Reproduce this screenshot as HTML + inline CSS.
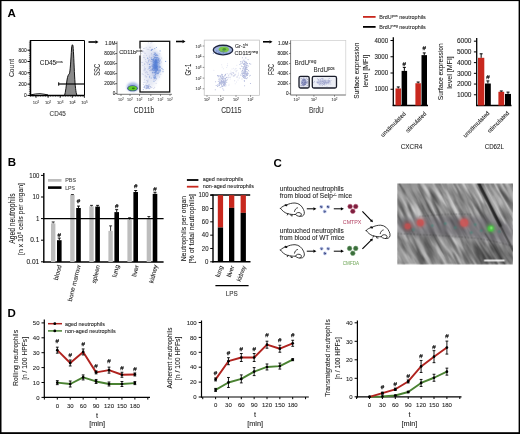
<!DOCTYPE html>
<html><head><meta charset="utf-8"><style>
html,body{margin:0;padding:0;background:#fff;}
body{width:520px;height:434px;overflow:hidden;}
svg{display:block;font-family:"Liberation Sans", sans-serif;will-change:transform;}
</style></head><body>
<svg width="520" height="434" viewBox="0 0 520 434">
<defs>
<filter id="blur1" x="-50%" y="-50%" width="200%" height="200%"><feGaussianBlur stdDeviation="1.2"/></filter>
<filter id="blur2" x="-50%" y="-50%" width="200%" height="200%"><feGaussianBlur stdDeviation="2"/></filter>
<filter id="blur05" x="-50%" y="-50%" width="200%" height="200%"><feGaussianBlur stdDeviation="0.6"/></filter>
<filter id="noise" x="0" y="0" width="100%" height="100%">
<feTurbulence type="fractalNoise" baseFrequency="0.35" numOctaves="2" seed="3" result="t"/>
<feColorMatrix type="saturate" values="0"/>
</filter>
</defs>
<rect x="0" y="0" width="520" height="434" fill="#fff"/>

<text x="7.60" y="17.00" font-size="11.5" font-weight="bold" fill="#000">A</text>
<line x1="30.50" y1="40.50" x2="84.50" y2="40.50" stroke="#000" stroke-width="1"/>
<line x1="84.50" y1="40.50" x2="84.50" y2="95.40" stroke="#000" stroke-width="1"/>
<line x1="30.50" y1="40.00" x2="30.50" y2="96.20" stroke="#000" stroke-width="1.5"/>
<line x1="29.70" y1="95.40" x2="84.50" y2="95.40" stroke="#000" stroke-width="1.5"/>
<line x1="28.90" y1="95.40" x2="30.50" y2="95.40" stroke="#000" stroke-width="0.5"/>
<line x1="28.90" y1="93.50" x2="30.50" y2="93.50" stroke="#000" stroke-width="0.5"/>
<line x1="28.90" y1="91.60" x2="30.50" y2="91.60" stroke="#000" stroke-width="0.5"/>
<line x1="28.90" y1="89.70" x2="30.50" y2="89.70" stroke="#000" stroke-width="0.5"/>
<line x1="28.90" y1="87.80" x2="30.50" y2="87.80" stroke="#000" stroke-width="0.5"/>
<line x1="28.90" y1="85.90" x2="30.50" y2="85.90" stroke="#000" stroke-width="0.5"/>
<line x1="28.90" y1="84.00" x2="30.50" y2="84.00" stroke="#000" stroke-width="0.5"/>
<line x1="28.90" y1="82.10" x2="30.50" y2="82.10" stroke="#000" stroke-width="0.5"/>
<line x1="28.90" y1="80.20" x2="30.50" y2="80.20" stroke="#000" stroke-width="0.5"/>
<line x1="28.90" y1="78.30" x2="30.50" y2="78.30" stroke="#000" stroke-width="0.5"/>
<line x1="28.90" y1="76.40" x2="30.50" y2="76.40" stroke="#000" stroke-width="0.5"/>
<line x1="28.90" y1="74.50" x2="30.50" y2="74.50" stroke="#000" stroke-width="0.5"/>
<line x1="28.90" y1="72.60" x2="30.50" y2="72.60" stroke="#000" stroke-width="0.5"/>
<line x1="28.90" y1="70.70" x2="30.50" y2="70.70" stroke="#000" stroke-width="0.5"/>
<line x1="28.90" y1="68.80" x2="30.50" y2="68.80" stroke="#000" stroke-width="0.5"/>
<line x1="28.90" y1="66.90" x2="30.50" y2="66.90" stroke="#000" stroke-width="0.5"/>
<line x1="28.90" y1="65.00" x2="30.50" y2="65.00" stroke="#000" stroke-width="0.5"/>
<line x1="28.90" y1="63.10" x2="30.50" y2="63.10" stroke="#000" stroke-width="0.5"/>
<line x1="28.90" y1="61.20" x2="30.50" y2="61.20" stroke="#000" stroke-width="0.5"/>
<line x1="28.90" y1="59.30" x2="30.50" y2="59.30" stroke="#000" stroke-width="0.5"/>
<line x1="28.90" y1="57.40" x2="30.50" y2="57.40" stroke="#000" stroke-width="0.5"/>
<line x1="28.90" y1="55.50" x2="30.50" y2="55.50" stroke="#000" stroke-width="0.5"/>
<line x1="28.90" y1="53.60" x2="30.50" y2="53.60" stroke="#000" stroke-width="0.5"/>
<line x1="28.90" y1="51.70" x2="30.50" y2="51.70" stroke="#000" stroke-width="0.5"/>
<line x1="28.90" y1="49.80" x2="30.50" y2="49.80" stroke="#000" stroke-width="0.5"/>
<line x1="28.90" y1="47.90" x2="30.50" y2="47.90" stroke="#000" stroke-width="0.5"/>
<line x1="28.90" y1="46.00" x2="30.50" y2="46.00" stroke="#000" stroke-width="0.5"/>
<line x1="28.90" y1="44.10" x2="30.50" y2="44.10" stroke="#000" stroke-width="0.5"/>
<line x1="28.90" y1="42.20" x2="30.50" y2="42.20" stroke="#000" stroke-width="0.5"/>
<line x1="27.50" y1="95.40" x2="30.50" y2="95.40" stroke="#000" stroke-width="1"/>
<text x="26.60" y="97.10" font-size="4.8" text-anchor="end" fill="#222" stroke="#222" stroke-width="0.08">0</text>
<line x1="27.50" y1="84.10" x2="30.50" y2="84.10" stroke="#000" stroke-width="1"/>
<text x="26.60" y="85.80" font-size="4.8" text-anchor="end" fill="#222" stroke="#222" stroke-width="0.08">200</text>
<line x1="27.50" y1="72.80" x2="30.50" y2="72.80" stroke="#000" stroke-width="1"/>
<text x="26.60" y="74.50" font-size="4.8" text-anchor="end" fill="#222" stroke="#222" stroke-width="0.08">400</text>
<line x1="27.50" y1="61.50" x2="30.50" y2="61.50" stroke="#000" stroke-width="1"/>
<text x="26.60" y="63.20" font-size="4.8" text-anchor="end" fill="#222" stroke="#222" stroke-width="0.08">600</text>
<line x1="27.50" y1="50.20" x2="30.50" y2="50.20" stroke="#000" stroke-width="1"/>
<text x="26.60" y="51.90" font-size="4.8" text-anchor="end" fill="#222" stroke="#222" stroke-width="0.08">800</text>
<line x1="36.00" y1="95.40" x2="36.00" y2="97.90" stroke="#000" stroke-width="0.8"/>
<text x="36.00" y="104.20" font-size="4.2" text-anchor="middle" fill="#444" stroke="#444" stroke-width="0.08">10<tspan font-size="3.0" baseline-shift="1.5">1</tspan></text>
<line x1="48.10" y1="95.40" x2="48.10" y2="97.90" stroke="#000" stroke-width="0.8"/>
<text x="48.10" y="104.20" font-size="4.2" text-anchor="middle" fill="#444" stroke="#444" stroke-width="0.08">10<tspan font-size="3.0" baseline-shift="1.5">2</tspan></text>
<line x1="60.20" y1="95.40" x2="60.20" y2="97.90" stroke="#000" stroke-width="0.8"/>
<text x="60.20" y="104.20" font-size="4.2" text-anchor="middle" fill="#444" stroke="#444" stroke-width="0.08">10<tspan font-size="3.0" baseline-shift="1.5">3</tspan></text>
<line x1="72.30" y1="95.40" x2="72.30" y2="97.90" stroke="#000" stroke-width="0.8"/>
<text x="72.30" y="104.20" font-size="4.2" text-anchor="middle" fill="#444" stroke="#444" stroke-width="0.08">10<tspan font-size="3.0" baseline-shift="1.5">4</tspan></text>
<line x1="84.40" y1="95.40" x2="84.40" y2="97.90" stroke="#000" stroke-width="0.8"/>
<text x="84.40" y="104.20" font-size="4.2" text-anchor="middle" fill="#444" stroke="#444" stroke-width="0.08">10<tspan font-size="3.0" baseline-shift="1.5">5</tspan></text>
<line x1="30.50" y1="95.40" x2="30.50" y2="96.70" stroke="#000" stroke-width="0.5"/>
<line x1="33.00" y1="95.40" x2="33.00" y2="96.70" stroke="#000" stroke-width="0.5"/>
<line x1="35.50" y1="95.40" x2="35.50" y2="96.70" stroke="#000" stroke-width="0.5"/>
<line x1="38.00" y1="95.40" x2="38.00" y2="96.70" stroke="#000" stroke-width="0.5"/>
<line x1="40.50" y1="95.40" x2="40.50" y2="96.70" stroke="#000" stroke-width="0.5"/>
<line x1="43.00" y1="95.40" x2="43.00" y2="96.70" stroke="#000" stroke-width="0.5"/>
<line x1="45.50" y1="95.40" x2="45.50" y2="96.70" stroke="#000" stroke-width="0.5"/>
<line x1="48.00" y1="95.40" x2="48.00" y2="96.70" stroke="#000" stroke-width="0.5"/>
<line x1="50.50" y1="95.40" x2="50.50" y2="96.70" stroke="#000" stroke-width="0.5"/>
<line x1="53.00" y1="95.40" x2="53.00" y2="96.70" stroke="#000" stroke-width="0.5"/>
<line x1="55.50" y1="95.40" x2="55.50" y2="96.70" stroke="#000" stroke-width="0.5"/>
<line x1="58.00" y1="95.40" x2="58.00" y2="96.70" stroke="#000" stroke-width="0.5"/>
<line x1="60.50" y1="95.40" x2="60.50" y2="96.70" stroke="#000" stroke-width="0.5"/>
<line x1="63.00" y1="95.40" x2="63.00" y2="96.70" stroke="#000" stroke-width="0.5"/>
<line x1="65.50" y1="95.40" x2="65.50" y2="96.70" stroke="#000" stroke-width="0.5"/>
<line x1="68.00" y1="95.40" x2="68.00" y2="96.70" stroke="#000" stroke-width="0.5"/>
<line x1="70.50" y1="95.40" x2="70.50" y2="96.70" stroke="#000" stroke-width="0.5"/>
<line x1="73.00" y1="95.40" x2="73.00" y2="96.70" stroke="#000" stroke-width="0.5"/>
<line x1="75.50" y1="95.40" x2="75.50" y2="96.70" stroke="#000" stroke-width="0.5"/>
<line x1="78.00" y1="95.40" x2="78.00" y2="96.70" stroke="#000" stroke-width="0.5"/>
<line x1="80.50" y1="95.40" x2="80.50" y2="96.70" stroke="#000" stroke-width="0.5"/>
<line x1="83.00" y1="95.40" x2="83.00" y2="96.70" stroke="#000" stroke-width="0.5"/>
<path d="M31,94.8 C34,94.2 37,93.6 40,93.7 C43,93.8 45,94.5 48,94.9" fill="none" stroke="#000" stroke-width="0.9"/>
<path d="M64.6,95.3 C65.6,92 66.2,86 67,80 C67.6,76 68.4,74.6 69.3,73.8 C70.2,72.5 70.8,60 71.6,48 C71.9,44.5 72.6,43.8 73,46 C73.6,52 74,64 74.6,76 C75.2,86 75.8,92.5 76.9,95.3 Z" fill="#8a8a8a" stroke="#000" stroke-width="0.9"/>
<line x1="58.70" y1="84.00" x2="84.50" y2="84.00" stroke="#000" stroke-width="1.2"/>
<line x1="58.70" y1="82.30" x2="58.70" y2="85.70" stroke="#000" stroke-width="1"/>
<text x="39.75" y="65.30" font-size="6.6" fill="#222" stroke="#222" stroke-width="0.08" textLength="23.00" lengthAdjust="spacingAndGlyphs">CD45<tspan font-size="4.2" baseline-shift="2.2">pos</tspan></text>
<text x="13.70" y="68.00" font-size="8.0" text-anchor="middle" fill="#333" stroke="#333" stroke-width="0.08" transform="rotate(-90 13.70 68.00)" textLength="18.10" lengthAdjust="spacingAndGlyphs">Count</text>
<text x="57.70" y="115.60" font-size="7.8" text-anchor="middle" fill="#333" stroke="#333" stroke-width="0.08" textLength="16.20" lengthAdjust="spacingAndGlyphs">CD45</text>
<line x1="88.50" y1="42.00" x2="95.80" y2="42.00" stroke="#000" stroke-width="1.6"/>
<path d="M98.50,42.00 L95.50,43.65 L95.50,40.35 Z" fill="#000"/>
<line x1="176.00" y1="41.50" x2="182.80" y2="41.50" stroke="#000" stroke-width="1.6"/>
<path d="M185.50,41.50 L182.50,43.15 L182.50,39.85 Z" fill="#000"/>
<line x1="263.00" y1="41.80" x2="269.80" y2="41.80" stroke="#000" stroke-width="1.6"/>
<path d="M272.50,41.80 L269.50,43.45 L269.50,40.15 Z" fill="#000"/>
<ellipse cx="150" cy="66" rx="8" ry="22" fill="#dfe3f2" opacity="0.8" filter="url(#blur2)"/>
<ellipse cx="155.7" cy="65" rx="4.5" ry="13" fill="#9fb2e2" opacity="0.8" filter="url(#blur2)"/>
<g fill="#8c96c8" opacity="0.45"><circle cx="143.1" cy="52.1" r="0.5"/><circle cx="154.5" cy="69.6" r="0.5"/><circle cx="155.8" cy="60.4" r="0.5"/><circle cx="151.0" cy="63.3" r="0.5"/><circle cx="145.3" cy="68.9" r="0.5"/><circle cx="142.7" cy="62.4" r="0.5"/><circle cx="152.5" cy="67.7" r="0.5"/><circle cx="149.3" cy="59.4" r="0.5"/><circle cx="149.8" cy="60.2" r="0.5"/><circle cx="147.1" cy="62.4" r="0.5"/><circle cx="159.1" cy="67.3" r="0.5"/><circle cx="149.9" cy="75.8" r="0.5"/><circle cx="159.1" cy="64.1" r="0.5"/><circle cx="141.7" cy="62.2" r="0.5"/><circle cx="152.3" cy="60.2" r="0.5"/><circle cx="147.1" cy="73.0" r="0.5"/><circle cx="150.1" cy="70.8" r="0.5"/><circle cx="146.8" cy="83.8" r="0.5"/><circle cx="156.5" cy="67.4" r="0.5"/><circle cx="146.7" cy="76.5" r="0.5"/><circle cx="151.4" cy="53.5" r="0.5"/><circle cx="146.7" cy="80.6" r="0.5"/><circle cx="148.5" cy="62.7" r="0.5"/><circle cx="150.1" cy="66.6" r="0.5"/><circle cx="157.7" cy="69.6" r="0.5"/><circle cx="144.6" cy="79.7" r="0.5"/><circle cx="150.5" cy="67.2" r="0.5"/><circle cx="151.8" cy="87.6" r="0.5"/><circle cx="159.8" cy="53.7" r="0.5"/><circle cx="146.4" cy="77.1" r="0.5"/><circle cx="155.5" cy="80.6" r="0.5"/><circle cx="151.9" cy="42.4" r="0.5"/><circle cx="160.8" cy="74.2" r="0.5"/><circle cx="152.8" cy="73.4" r="0.5"/><circle cx="142.9" cy="91.9" r="0.5"/><circle cx="144.8" cy="63.9" r="0.5"/><circle cx="147.7" cy="74.4" r="0.5"/><circle cx="151.5" cy="70.5" r="0.5"/><circle cx="149.8" cy="70.5" r="0.5"/><circle cx="155.2" cy="65.7" r="0.5"/><circle cx="145.9" cy="72.3" r="0.5"/><circle cx="141.2" cy="53.5" r="0.5"/><circle cx="144.0" cy="70.7" r="0.5"/><circle cx="159.5" cy="76.9" r="0.5"/><circle cx="154.7" cy="70.1" r="0.5"/><circle cx="150.4" cy="61.2" r="0.5"/><circle cx="143.0" cy="50.3" r="0.5"/><circle cx="153.2" cy="75.6" r="0.5"/><circle cx="154.7" cy="87.2" r="0.5"/><circle cx="147.5" cy="80.7" r="0.5"/><circle cx="158.8" cy="66.9" r="0.5"/><circle cx="154.4" cy="64.9" r="0.5"/><circle cx="144.9" cy="68.4" r="0.5"/><circle cx="146.7" cy="71.2" r="0.5"/><circle cx="155.8" cy="62.4" r="0.5"/><circle cx="144.5" cy="67.1" r="0.5"/><circle cx="152.4" cy="72.5" r="0.5"/><circle cx="143.3" cy="84.5" r="0.5"/><circle cx="150.2" cy="47.2" r="0.5"/><circle cx="144.7" cy="48.2" r="0.5"/><circle cx="143.9" cy="82.4" r="0.5"/><circle cx="147.9" cy="81.7" r="0.5"/><circle cx="149.9" cy="47.2" r="0.5"/><circle cx="145.1" cy="53.2" r="0.5"/><circle cx="155.3" cy="68.2" r="0.5"/><circle cx="149.0" cy="86.4" r="0.5"/><circle cx="143.6" cy="48.4" r="0.5"/><circle cx="144.9" cy="82.3" r="0.5"/><circle cx="148.3" cy="42.7" r="0.5"/><circle cx="143.3" cy="87.2" r="0.5"/><circle cx="154.2" cy="52.5" r="0.5"/><circle cx="161.4" cy="62.1" r="0.5"/><circle cx="142.9" cy="65.2" r="0.5"/><circle cx="153.8" cy="88.4" r="0.5"/><circle cx="154.3" cy="61.3" r="0.5"/><circle cx="146.1" cy="47.7" r="0.5"/><circle cx="148.6" cy="59.1" r="0.5"/><circle cx="150.3" cy="50.2" r="0.5"/><circle cx="146.4" cy="55.3" r="0.5"/><circle cx="142.8" cy="51.3" r="0.5"/><circle cx="143.8" cy="51.3" r="0.5"/><circle cx="151.9" cy="68.3" r="0.5"/><circle cx="142.2" cy="73.8" r="0.5"/><circle cx="150.5" cy="86.4" r="0.5"/><circle cx="148.0" cy="64.2" r="0.5"/><circle cx="145.5" cy="68.7" r="0.5"/><circle cx="151.5" cy="69.3" r="0.5"/><circle cx="147.7" cy="74.5" r="0.5"/><circle cx="149.5" cy="70.3" r="0.5"/><circle cx="144.2" cy="69.7" r="0.5"/><circle cx="143.9" cy="55.8" r="0.5"/><circle cx="154.1" cy="67.1" r="0.5"/><circle cx="148.1" cy="80.1" r="0.5"/><circle cx="156.1" cy="83.2" r="0.5"/><circle cx="148.0" cy="69.5" r="0.5"/><circle cx="147.3" cy="63.2" r="0.5"/><circle cx="144.6" cy="63.7" r="0.5"/><circle cx="151.2" cy="54.7" r="0.5"/><circle cx="151.8" cy="49.8" r="0.5"/><circle cx="147.1" cy="72.3" r="0.5"/><circle cx="143.7" cy="57.5" r="0.5"/><circle cx="161.6" cy="57.9" r="0.5"/><circle cx="145.4" cy="59.4" r="0.5"/><circle cx="149.2" cy="66.6" r="0.5"/><circle cx="154.0" cy="77.5" r="0.5"/><circle cx="146.9" cy="62.3" r="0.5"/><circle cx="141.8" cy="47.1" r="0.5"/><circle cx="145.2" cy="76.7" r="0.5"/><circle cx="149.6" cy="77.7" r="0.5"/><circle cx="153.8" cy="64.8" r="0.5"/><circle cx="159.7" cy="60.0" r="0.5"/><circle cx="145.8" cy="61.3" r="0.5"/><circle cx="154.8" cy="65.2" r="0.5"/><circle cx="145.2" cy="72.8" r="0.5"/><circle cx="154.8" cy="65.5" r="0.5"/><circle cx="147.7" cy="81.4" r="0.5"/><circle cx="154.0" cy="79.6" r="0.5"/><circle cx="145.1" cy="70.8" r="0.5"/><circle cx="150.9" cy="43.1" r="0.5"/><circle cx="155.1" cy="68.3" r="0.5"/><circle cx="149.7" cy="57.4" r="0.5"/><circle cx="148.7" cy="74.5" r="0.5"/><circle cx="153.2" cy="66.2" r="0.5"/><circle cx="144.6" cy="57.7" r="0.5"/><circle cx="144.8" cy="53.0" r="0.5"/><circle cx="148.9" cy="60.5" r="0.5"/><circle cx="149.3" cy="56.0" r="0.5"/><circle cx="144.6" cy="64.5" r="0.5"/><circle cx="147.2" cy="82.3" r="0.5"/><circle cx="144.4" cy="69.7" r="0.5"/><circle cx="148.8" cy="49.6" r="0.5"/><circle cx="152.7" cy="69.2" r="0.5"/><circle cx="153.8" cy="56.4" r="0.5"/><circle cx="157.6" cy="69.1" r="0.5"/><circle cx="143.1" cy="74.5" r="0.5"/><circle cx="147.2" cy="49.2" r="0.5"/><circle cx="145.2" cy="75.5" r="0.5"/><circle cx="151.0" cy="60.1" r="0.5"/></g>
<g fill="#3f6ccc" opacity="0.55"><circle cx="154.2" cy="78.5" r="0.6"/><circle cx="160.6" cy="70.8" r="0.6"/><circle cx="154.7" cy="57.5" r="0.6"/><circle cx="154.6" cy="77.7" r="0.6"/><circle cx="157.0" cy="62.8" r="0.6"/><circle cx="152.2" cy="66.3" r="0.6"/><circle cx="153.2" cy="65.1" r="0.6"/><circle cx="157.8" cy="73.2" r="0.6"/><circle cx="156.1" cy="62.4" r="0.6"/><circle cx="156.3" cy="78.8" r="0.6"/><circle cx="156.8" cy="54.3" r="0.6"/><circle cx="160.1" cy="66.9" r="0.6"/><circle cx="165.6" cy="61.4" r="0.6"/><circle cx="155.4" cy="62.7" r="0.6"/><circle cx="156.8" cy="60.6" r="0.6"/><circle cx="151.5" cy="50.3" r="0.6"/><circle cx="155.3" cy="61.1" r="0.6"/><circle cx="154.0" cy="81.2" r="0.6"/><circle cx="158.0" cy="73.3" r="0.6"/><circle cx="154.3" cy="67.3" r="0.6"/><circle cx="155.1" cy="63.4" r="0.6"/><circle cx="157.8" cy="69.6" r="0.6"/><circle cx="156.6" cy="66.1" r="0.6"/><circle cx="151.6" cy="59.4" r="0.6"/><circle cx="156.8" cy="62.2" r="0.6"/><circle cx="153.5" cy="67.7" r="0.6"/><circle cx="153.1" cy="59.9" r="0.6"/><circle cx="158.2" cy="62.3" r="0.6"/><circle cx="159.8" cy="69.0" r="0.6"/><circle cx="158.0" cy="73.6" r="0.6"/><circle cx="149.6" cy="64.4" r="0.6"/><circle cx="152.0" cy="61.5" r="0.6"/><circle cx="155.4" cy="74.5" r="0.6"/><circle cx="155.6" cy="77.5" r="0.6"/><circle cx="154.2" cy="64.6" r="0.6"/><circle cx="156.0" cy="72.2" r="0.6"/><circle cx="155.6" cy="60.3" r="0.6"/><circle cx="154.8" cy="54.3" r="0.6"/><circle cx="159.3" cy="70.7" r="0.6"/><circle cx="156.9" cy="67.1" r="0.6"/><circle cx="154.0" cy="61.9" r="0.6"/><circle cx="158.0" cy="59.0" r="0.6"/><circle cx="153.5" cy="77.0" r="0.6"/><circle cx="160.1" cy="67.2" r="0.6"/><circle cx="157.2" cy="66.4" r="0.6"/><circle cx="159.7" cy="61.6" r="0.6"/><circle cx="155.9" cy="68.7" r="0.6"/><circle cx="159.8" cy="63.1" r="0.6"/><circle cx="156.4" cy="61.3" r="0.6"/><circle cx="153.8" cy="60.0" r="0.6"/><circle cx="155.9" cy="71.7" r="0.6"/><circle cx="153.7" cy="60.4" r="0.6"/><circle cx="154.6" cy="67.7" r="0.6"/><circle cx="157.7" cy="55.5" r="0.6"/><circle cx="156.7" cy="57.5" r="0.6"/><circle cx="157.7" cy="57.7" r="0.6"/><circle cx="152.6" cy="59.6" r="0.6"/><circle cx="155.5" cy="57.5" r="0.6"/><circle cx="156.3" cy="66.1" r="0.6"/><circle cx="155.9" cy="67.0" r="0.6"/><circle cx="158.2" cy="59.5" r="0.6"/><circle cx="155.7" cy="64.8" r="0.6"/><circle cx="149.9" cy="67.9" r="0.6"/><circle cx="153.5" cy="59.6" r="0.6"/><circle cx="154.4" cy="65.7" r="0.6"/><circle cx="156.6" cy="68.6" r="0.6"/><circle cx="153.8" cy="70.2" r="0.6"/><circle cx="156.9" cy="62.1" r="0.6"/><circle cx="155.6" cy="71.0" r="0.6"/><circle cx="156.9" cy="70.2" r="0.6"/><circle cx="156.0" cy="73.6" r="0.6"/><circle cx="161.9" cy="68.4" r="0.6"/><circle cx="151.2" cy="78.0" r="0.6"/><circle cx="154.1" cy="54.6" r="0.6"/><circle cx="149.1" cy="68.2" r="0.6"/><circle cx="158.8" cy="72.5" r="0.6"/><circle cx="154.6" cy="75.9" r="0.6"/><circle cx="155.5" cy="60.6" r="0.6"/><circle cx="155.9" cy="66.6" r="0.6"/><circle cx="155.8" cy="68.0" r="0.6"/><circle cx="149.6" cy="76.8" r="0.6"/><circle cx="154.1" cy="69.9" r="0.6"/><circle cx="153.5" cy="66.2" r="0.6"/><circle cx="155.2" cy="53.1" r="0.6"/><circle cx="156.8" cy="69.8" r="0.6"/><circle cx="152.6" cy="49.3" r="0.6"/><circle cx="153.9" cy="58.7" r="0.6"/><circle cx="156.0" cy="64.9" r="0.6"/><circle cx="160.2" cy="69.9" r="0.6"/><circle cx="155.0" cy="66.2" r="0.6"/><circle cx="147.6" cy="58.2" r="0.6"/><circle cx="153.1" cy="64.2" r="0.6"/><circle cx="156.6" cy="66.6" r="0.6"/><circle cx="158.3" cy="59.8" r="0.6"/><circle cx="156.6" cy="64.0" r="0.6"/><circle cx="155.7" cy="67.4" r="0.6"/><circle cx="154.9" cy="66.6" r="0.6"/><circle cx="155.6" cy="72.7" r="0.6"/><circle cx="155.4" cy="67.3" r="0.6"/><circle cx="163.0" cy="69.7" r="0.6"/><circle cx="157.1" cy="73.1" r="0.6"/><circle cx="152.9" cy="70.3" r="0.6"/><circle cx="157.8" cy="68.3" r="0.6"/><circle cx="158.4" cy="70.9" r="0.6"/><circle cx="159.0" cy="60.2" r="0.6"/><circle cx="156.9" cy="60.9" r="0.6"/><circle cx="159.2" cy="66.0" r="0.6"/><circle cx="152.1" cy="65.8" r="0.6"/><circle cx="152.9" cy="72.4" r="0.6"/><circle cx="154.8" cy="48.6" r="0.6"/><circle cx="154.6" cy="72.7" r="0.6"/><circle cx="156.6" cy="60.3" r="0.6"/><circle cx="157.5" cy="69.3" r="0.6"/><circle cx="159.8" cy="71.8" r="0.6"/><circle cx="156.7" cy="59.1" r="0.6"/><circle cx="156.5" cy="67.3" r="0.6"/><circle cx="155.7" cy="68.1" r="0.6"/><circle cx="152.4" cy="69.3" r="0.6"/><circle cx="155.7" cy="67.7" r="0.6"/><circle cx="155.4" cy="62.8" r="0.6"/><circle cx="156.4" cy="70.9" r="0.6"/><circle cx="154.8" cy="67.4" r="0.6"/><circle cx="153.6" cy="68.1" r="0.6"/><circle cx="155.8" cy="55.4" r="0.6"/><circle cx="158.9" cy="58.4" r="0.6"/><circle cx="155.9" cy="55.2" r="0.6"/><circle cx="150.9" cy="69.9" r="0.6"/><circle cx="151.8" cy="49.5" r="0.6"/><circle cx="155.1" cy="53.5" r="0.6"/><circle cx="155.1" cy="78.6" r="0.6"/><circle cx="154.6" cy="67.7" r="0.6"/><circle cx="157.3" cy="66.8" r="0.6"/><circle cx="155.4" cy="76.2" r="0.6"/><circle cx="155.5" cy="67.6" r="0.6"/><circle cx="156.0" cy="55.5" r="0.6"/><circle cx="156.6" cy="65.4" r="0.6"/><circle cx="157.5" cy="70.1" r="0.6"/><circle cx="160.1" cy="50.9" r="0.6"/><circle cx="154.2" cy="61.5" r="0.6"/><circle cx="153.3" cy="68.1" r="0.6"/><circle cx="155.5" cy="66.0" r="0.6"/><circle cx="151.2" cy="57.9" r="0.6"/><circle cx="155.5" cy="61.7" r="0.6"/><circle cx="154.0" cy="64.1" r="0.6"/><circle cx="154.9" cy="57.1" r="0.6"/><circle cx="160.3" cy="60.0" r="0.6"/><circle cx="157.5" cy="69.4" r="0.6"/><circle cx="158.4" cy="60.8" r="0.6"/><circle cx="152.9" cy="68.3" r="0.6"/><circle cx="156.4" cy="47.5" r="0.6"/><circle cx="148.5" cy="61.0" r="0.6"/><circle cx="154.6" cy="63.0" r="0.6"/><circle cx="156.8" cy="57.8" r="0.6"/><circle cx="163.0" cy="71.7" r="0.6"/><circle cx="159.3" cy="67.0" r="0.6"/><circle cx="150.0" cy="66.7" r="0.6"/><circle cx="154.2" cy="68.3" r="0.6"/><circle cx="155.4" cy="70.0" r="0.6"/><circle cx="153.3" cy="62.3" r="0.6"/><circle cx="155.7" cy="59.4" r="0.6"/></g>
<ellipse cx="155.8" cy="65" rx="2.4" ry="6.5" fill="#4a78d4" opacity="0.75" filter="url(#blur1)"/>
<g fill="#5a72c0" opacity="0.55"><circle cx="146.6" cy="88.2" r="0.55"/><circle cx="150.8" cy="87.1" r="0.55"/><circle cx="148.9" cy="85.9" r="0.55"/><circle cx="146.6" cy="87.8" r="0.55"/><circle cx="148.4" cy="86.1" r="0.55"/><circle cx="148.5" cy="87.6" r="0.55"/><circle cx="149.7" cy="88.6" r="0.55"/><circle cx="148.4" cy="86.9" r="0.55"/><circle cx="147.9" cy="86.3" r="0.55"/><circle cx="145.9" cy="85.0" r="0.55"/><circle cx="145.1" cy="85.8" r="0.55"/><circle cx="147.2" cy="87.5" r="0.55"/><circle cx="145.0" cy="87.3" r="0.55"/><circle cx="148.1" cy="88.6" r="0.55"/><circle cx="147.2" cy="87.7" r="0.55"/><circle cx="146.7" cy="88.6" r="0.55"/><circle cx="144.6" cy="87.7" r="0.55"/><circle cx="143.3" cy="89.6" r="0.55"/><circle cx="149.0" cy="84.7" r="0.55"/><circle cx="146.5" cy="85.6" r="0.55"/><circle cx="144.3" cy="86.9" r="0.55"/><circle cx="145.8" cy="88.7" r="0.55"/><circle cx="146.5" cy="86.0" r="0.55"/><circle cx="147.2" cy="87.9" r="0.55"/><circle cx="148.8" cy="88.0" r="0.55"/><circle cx="144.7" cy="86.3" r="0.55"/><circle cx="147.1" cy="86.3" r="0.55"/><circle cx="148.7" cy="87.0" r="0.55"/><circle cx="147.3" cy="86.9" r="0.55"/><circle cx="147.5" cy="85.5" r="0.55"/></g>
<ellipse cx="132.8" cy="87.0" rx="6" ry="4.5" fill="#8aa0d8" opacity="0.8" filter="url(#blur1)"/>
<ellipse cx="132.5" cy="88.3" rx="5.3" ry="3.0" fill="#2e4a8a" opacity="0.9" filter="url(#blur05)"/>
<ellipse cx="132.6" cy="88.3" rx="4.3" ry="2.25" fill="#62cc28" opacity="1" filter="url(#blur05)"/>
<ellipse cx="133.4" cy="88.3" rx="1.5" ry="0.9" fill="#2a7a10" opacity="1" filter="url(#blur05)"/>
<line x1="117.00" y1="41.30" x2="117.00" y2="94.30" stroke="#555" stroke-width="0.8"/>
<line x1="117.00" y1="94.30" x2="172.00" y2="94.30" stroke="#555" stroke-width="0.8"/>
<rect x="140" y="41.3" width="29.7" height="50.7" fill="none" stroke="#111" stroke-width="1.3"/>
<line x1="115.20" y1="93.70" x2="117.00" y2="93.70" stroke="#333" stroke-width="0.8"/>
<text x="115.30" y="95.40" font-size="4.7" text-anchor="end" fill="#222" stroke="#222" stroke-width="0.08">0</text>
<line x1="115.20" y1="83.65" x2="117.00" y2="83.65" stroke="#333" stroke-width="0.8"/>
<text x="115.30" y="85.35" font-size="4.7" text-anchor="end" fill="#222" stroke="#222" stroke-width="0.08">200K</text>
<line x1="115.20" y1="73.60" x2="117.00" y2="73.60" stroke="#333" stroke-width="0.8"/>
<text x="115.30" y="75.30" font-size="4.7" text-anchor="end" fill="#222" stroke="#222" stroke-width="0.08">400K</text>
<line x1="115.20" y1="63.55" x2="117.00" y2="63.55" stroke="#333" stroke-width="0.8"/>
<text x="115.30" y="65.25" font-size="4.7" text-anchor="end" fill="#222" stroke="#222" stroke-width="0.08">600K</text>
<line x1="115.20" y1="53.50" x2="117.00" y2="53.50" stroke="#333" stroke-width="0.8"/>
<text x="115.30" y="55.20" font-size="4.7" text-anchor="end" fill="#222" stroke="#222" stroke-width="0.08">800K</text>
<line x1="115.20" y1="43.45" x2="117.00" y2="43.45" stroke="#333" stroke-width="0.8"/>
<text x="115.30" y="45.15" font-size="4.7" text-anchor="end" fill="#222" stroke="#222" stroke-width="0.08">1.0M</text>
<line x1="121.00" y1="94.30" x2="121.00" y2="95.90" stroke="#333" stroke-width="0.6"/>
<text x="121.00" y="100.80" font-size="3.8" text-anchor="middle" fill="#555" stroke="#555" stroke-width="0.08">10<tspan font-size="3.0" baseline-shift="1.5">2</tspan></text>
<line x1="130.00" y1="94.30" x2="130.00" y2="95.90" stroke="#333" stroke-width="0.6"/>
<text x="130.00" y="100.80" font-size="3.8" text-anchor="middle" fill="#555" stroke="#555" stroke-width="0.08">10<tspan font-size="3.0" baseline-shift="1.5">2</tspan></text>
<line x1="139.50" y1="94.30" x2="139.50" y2="95.90" stroke="#333" stroke-width="0.6"/>
<text x="139.50" y="100.80" font-size="3.8" text-anchor="middle" fill="#555" stroke="#555" stroke-width="0.08">10<tspan font-size="3.0" baseline-shift="1.5">2</tspan></text>
<line x1="150.80" y1="94.30" x2="150.80" y2="95.90" stroke="#333" stroke-width="0.6"/>
<text x="150.80" y="100.80" font-size="3.8" text-anchor="middle" fill="#555" stroke="#555" stroke-width="0.08">10<tspan font-size="3.0" baseline-shift="1.5">2</tspan></text>
<line x1="160.50" y1="94.30" x2="160.50" y2="95.90" stroke="#333" stroke-width="0.6"/>
<text x="160.50" y="100.80" font-size="3.8" text-anchor="middle" fill="#555" stroke="#555" stroke-width="0.08">10<tspan font-size="3.0" baseline-shift="1.5">2</tspan></text>
<line x1="170.00" y1="94.30" x2="170.00" y2="95.90" stroke="#333" stroke-width="0.6"/>
<text x="170.00" y="100.80" font-size="3.8" text-anchor="middle" fill="#555" stroke="#555" stroke-width="0.08">10<tspan font-size="3.0" baseline-shift="1.5">2</tspan></text>
<rect x="119.00" y="48.50" width="21.50" height="7.00" fill="#fff"/>
<text x="119.20" y="54.10" font-size="5.8" fill="#222" stroke="#222" stroke-width="0.08" textLength="23.30" lengthAdjust="spacingAndGlyphs">CD11b<tspan font-size="4.0" baseline-shift="2.0">pos</tspan></text>
<text x="100.30" y="69.75" font-size="8.8" text-anchor="middle" fill="#333" stroke="#333" stroke-width="0.08" transform="rotate(-90 100.30 69.75)" textLength="12.10" lengthAdjust="spacingAndGlyphs">SSC</text>
<text x="144.00" y="113.00" font-size="8.2" text-anchor="middle" fill="#333" stroke="#333" stroke-width="0.08" textLength="20.30" lengthAdjust="spacingAndGlyphs">CD11b</text>
<rect x="204.2" y="40.1" width="55.2" height="55.2" fill="none" stroke="#bbb" stroke-width="0.7"/>
<g fill="#6070b8" opacity="0.5"><circle cx="227.6" cy="79.7" r="0.55"/><circle cx="220.4" cy="75.9" r="0.55"/><circle cx="222.0" cy="77.1" r="0.55"/><circle cx="223.1" cy="85.2" r="0.55"/><circle cx="223.8" cy="80.1" r="0.55"/><circle cx="225.5" cy="80.9" r="0.55"/><circle cx="222.1" cy="81.7" r="0.55"/><circle cx="221.0" cy="82.8" r="0.55"/><circle cx="219.1" cy="75.9" r="0.55"/><circle cx="225.3" cy="79.1" r="0.55"/><circle cx="221.4" cy="82.5" r="0.55"/><circle cx="221.1" cy="77.7" r="0.55"/><circle cx="221.8" cy="78.5" r="0.55"/><circle cx="223.7" cy="80.1" r="0.55"/><circle cx="221.6" cy="83.9" r="0.55"/><circle cx="218.3" cy="76.8" r="0.55"/><circle cx="224.1" cy="85.4" r="0.55"/><circle cx="222.5" cy="79.2" r="0.55"/><circle cx="225.4" cy="83.1" r="0.55"/><circle cx="224.9" cy="75.7" r="0.55"/><circle cx="221.9" cy="78.2" r="0.55"/><circle cx="219.5" cy="83.3" r="0.55"/><circle cx="224.1" cy="80.0" r="0.55"/><circle cx="221.6" cy="85.8" r="0.55"/><circle cx="223.9" cy="81.1" r="0.55"/><circle cx="223.6" cy="81.8" r="0.55"/><circle cx="219.0" cy="79.8" r="0.55"/><circle cx="223.0" cy="83.4" r="0.55"/><circle cx="219.2" cy="78.9" r="0.55"/><circle cx="220.8" cy="76.7" r="0.55"/><circle cx="225.1" cy="82.9" r="0.55"/><circle cx="225.6" cy="74.6" r="0.55"/><circle cx="220.2" cy="87.2" r="0.55"/><circle cx="218.7" cy="75.7" r="0.55"/><circle cx="222.8" cy="86.4" r="0.55"/><circle cx="223.9" cy="78.4" r="0.55"/><circle cx="223.7" cy="82.7" r="0.55"/><circle cx="222.9" cy="82.7" r="0.55"/><circle cx="224.4" cy="85.1" r="0.55"/><circle cx="225.8" cy="84.8" r="0.55"/><circle cx="221.9" cy="75.6" r="0.55"/><circle cx="223.7" cy="76.7" r="0.55"/><circle cx="228.1" cy="77.8" r="0.55"/><circle cx="217.5" cy="75.6" r="0.55"/><circle cx="223.3" cy="82.4" r="0.55"/><circle cx="223.9" cy="82.4" r="0.55"/><circle cx="220.3" cy="84.0" r="0.55"/><circle cx="220.5" cy="76.7" r="0.55"/><circle cx="224.6" cy="83.1" r="0.55"/><circle cx="219.9" cy="80.7" r="0.55"/><circle cx="224.9" cy="84.4" r="0.55"/><circle cx="219.5" cy="84.9" r="0.55"/><circle cx="215.6" cy="81.7" r="0.55"/><circle cx="223.2" cy="81.1" r="0.55"/><circle cx="222.6" cy="76.4" r="0.55"/><circle cx="221.9" cy="83.0" r="0.55"/><circle cx="219.9" cy="81.9" r="0.55"/><circle cx="221.8" cy="74.4" r="0.55"/><circle cx="220.7" cy="83.3" r="0.55"/><circle cx="218.3" cy="81.5" r="0.55"/><circle cx="223.1" cy="77.4" r="0.55"/><circle cx="221.6" cy="84.3" r="0.55"/><circle cx="224.1" cy="78.3" r="0.55"/><circle cx="224.9" cy="82.5" r="0.55"/><circle cx="222.6" cy="86.2" r="0.55"/><circle cx="224.2" cy="82.6" r="0.55"/><circle cx="224.7" cy="83.6" r="0.55"/><circle cx="225.5" cy="81.1" r="0.55"/><circle cx="217.7" cy="86.4" r="0.55"/><circle cx="224.3" cy="83.1" r="0.55"/><circle cx="222.4" cy="81.2" r="0.55"/><circle cx="222.5" cy="78.5" r="0.55"/><circle cx="224.3" cy="81.8" r="0.55"/><circle cx="219.8" cy="82.3" r="0.55"/><circle cx="221.4" cy="81.4" r="0.55"/><circle cx="223.7" cy="90.0" r="0.55"/><circle cx="219.6" cy="82.8" r="0.55"/><circle cx="224.1" cy="82.8" r="0.55"/><circle cx="226.1" cy="80.1" r="0.55"/><circle cx="221.4" cy="81.4" r="0.55"/><circle cx="218.8" cy="85.0" r="0.55"/><circle cx="219.1" cy="83.2" r="0.55"/><circle cx="225.4" cy="78.8" r="0.55"/><circle cx="221.8" cy="80.8" r="0.55"/><circle cx="226.7" cy="82.3" r="0.55"/><circle cx="217.8" cy="84.9" r="0.55"/><circle cx="224.9" cy="75.2" r="0.55"/><circle cx="215.3" cy="89.8" r="0.55"/><circle cx="222.5" cy="74.8" r="0.55"/><circle cx="225.0" cy="86.0" r="0.55"/><circle cx="216.2" cy="85.5" r="0.55"/><circle cx="224.1" cy="81.4" r="0.55"/><circle cx="220.5" cy="82.7" r="0.55"/><circle cx="220.2" cy="82.0" r="0.55"/><circle cx="221.6" cy="80.1" r="0.55"/><circle cx="223.7" cy="84.6" r="0.55"/><circle cx="224.6" cy="82.9" r="0.55"/><circle cx="226.6" cy="77.5" r="0.55"/><circle cx="222.5" cy="82.1" r="0.55"/><circle cx="225.4" cy="74.3" r="0.55"/><circle cx="221.2" cy="80.5" r="0.55"/><circle cx="222.8" cy="88.7" r="0.55"/><circle cx="222.9" cy="81.2" r="0.55"/><circle cx="223.4" cy="84.6" r="0.55"/><circle cx="221.8" cy="86.8" r="0.55"/><circle cx="219.2" cy="85.5" r="0.55"/><circle cx="224.1" cy="84.7" r="0.55"/><circle cx="226.3" cy="80.7" r="0.55"/><circle cx="223.4" cy="82.3" r="0.55"/><circle cx="220.7" cy="79.1" r="0.55"/></g>
<g fill="#6070b8" opacity="0.5"><circle cx="243.5" cy="75.4" r="0.55"/><circle cx="240.5" cy="61.7" r="0.55"/><circle cx="245.1" cy="78.4" r="0.55"/><circle cx="244.8" cy="78.1" r="0.55"/><circle cx="244.9" cy="66.5" r="0.55"/><circle cx="241.9" cy="71.2" r="0.55"/><circle cx="248.4" cy="70.6" r="0.55"/><circle cx="242.9" cy="73.8" r="0.55"/><circle cx="242.3" cy="62.6" r="0.55"/><circle cx="247.2" cy="72.6" r="0.55"/><circle cx="246.9" cy="71.5" r="0.55"/><circle cx="244.8" cy="71.1" r="0.55"/><circle cx="244.4" cy="76.8" r="0.55"/><circle cx="242.4" cy="57.8" r="0.55"/><circle cx="243.3" cy="75.8" r="0.55"/><circle cx="243.9" cy="55.1" r="0.55"/><circle cx="250.7" cy="64.0" r="0.55"/><circle cx="244.6" cy="73.7" r="0.55"/><circle cx="245.7" cy="68.9" r="0.55"/><circle cx="241.9" cy="73.4" r="0.55"/><circle cx="243.0" cy="68.8" r="0.55"/><circle cx="246.5" cy="67.5" r="0.55"/><circle cx="241.4" cy="66.1" r="0.55"/><circle cx="246.2" cy="74.6" r="0.55"/><circle cx="242.4" cy="70.3" r="0.55"/><circle cx="245.6" cy="76.9" r="0.55"/><circle cx="245.8" cy="71.0" r="0.55"/><circle cx="244.4" cy="73.0" r="0.55"/><circle cx="246.5" cy="69.0" r="0.55"/><circle cx="244.4" cy="81.2" r="0.55"/><circle cx="244.9" cy="64.9" r="0.55"/><circle cx="246.3" cy="62.0" r="0.55"/><circle cx="242.8" cy="75.9" r="0.55"/><circle cx="245.0" cy="75.1" r="0.55"/><circle cx="246.5" cy="65.1" r="0.55"/><circle cx="246.0" cy="67.6" r="0.55"/><circle cx="245.4" cy="71.6" r="0.55"/><circle cx="244.8" cy="61.7" r="0.55"/><circle cx="245.6" cy="70.1" r="0.55"/><circle cx="246.0" cy="63.2" r="0.55"/><circle cx="245.4" cy="68.7" r="0.55"/><circle cx="244.2" cy="68.3" r="0.55"/><circle cx="244.5" cy="61.2" r="0.55"/><circle cx="243.9" cy="67.0" r="0.55"/><circle cx="245.9" cy="69.0" r="0.55"/><circle cx="247.8" cy="73.9" r="0.55"/><circle cx="245.6" cy="71.3" r="0.55"/><circle cx="242.2" cy="72.3" r="0.55"/><circle cx="247.5" cy="63.5" r="0.55"/><circle cx="247.6" cy="73.9" r="0.55"/><circle cx="245.6" cy="67.3" r="0.55"/><circle cx="245.0" cy="65.0" r="0.55"/><circle cx="245.0" cy="70.3" r="0.55"/><circle cx="245.1" cy="62.2" r="0.55"/><circle cx="246.8" cy="65.8" r="0.55"/><circle cx="245.8" cy="73.8" r="0.55"/><circle cx="244.6" cy="85.7" r="0.55"/><circle cx="245.2" cy="72.7" r="0.55"/><circle cx="244.5" cy="72.1" r="0.55"/><circle cx="242.5" cy="74.1" r="0.55"/><circle cx="244.3" cy="66.7" r="0.55"/><circle cx="246.5" cy="75.8" r="0.55"/><circle cx="244.2" cy="63.5" r="0.55"/><circle cx="241.0" cy="63.6" r="0.55"/><circle cx="246.0" cy="74.1" r="0.55"/><circle cx="242.5" cy="70.3" r="0.55"/><circle cx="247.1" cy="65.1" r="0.55"/><circle cx="243.9" cy="64.2" r="0.55"/><circle cx="245.8" cy="57.9" r="0.55"/><circle cx="244.7" cy="73.0" r="0.55"/><circle cx="244.9" cy="76.1" r="0.55"/><circle cx="246.2" cy="66.7" r="0.55"/><circle cx="243.0" cy="63.2" r="0.55"/><circle cx="246.0" cy="69.1" r="0.55"/><circle cx="245.2" cy="64.2" r="0.55"/><circle cx="247.3" cy="75.5" r="0.55"/><circle cx="246.5" cy="62.9" r="0.55"/><circle cx="250.1" cy="75.4" r="0.55"/><circle cx="242.9" cy="76.2" r="0.55"/><circle cx="244.7" cy="65.0" r="0.55"/><circle cx="243.5" cy="73.2" r="0.55"/><circle cx="245.6" cy="71.3" r="0.55"/><circle cx="244.6" cy="63.5" r="0.55"/><circle cx="245.5" cy="68.3" r="0.55"/><circle cx="244.6" cy="73.9" r="0.55"/><circle cx="248.3" cy="66.0" r="0.55"/><circle cx="246.9" cy="65.3" r="0.55"/><circle cx="246.6" cy="74.1" r="0.55"/><circle cx="245.1" cy="71.5" r="0.55"/><circle cx="243.5" cy="67.9" r="0.55"/><circle cx="246.9" cy="74.9" r="0.55"/><circle cx="249.4" cy="63.6" r="0.55"/><circle cx="244.1" cy="70.6" r="0.55"/><circle cx="245.1" cy="66.8" r="0.55"/><circle cx="244.2" cy="69.4" r="0.55"/><circle cx="247.5" cy="69.3" r="0.55"/><circle cx="243.5" cy="72.0" r="0.55"/><circle cx="239.9" cy="64.5" r="0.55"/><circle cx="243.8" cy="72.0" r="0.55"/><circle cx="240.5" cy="68.7" r="0.55"/><circle cx="242.9" cy="76.2" r="0.55"/><circle cx="246.5" cy="67.2" r="0.55"/><circle cx="245.9" cy="62.6" r="0.55"/><circle cx="245.4" cy="71.7" r="0.55"/><circle cx="247.1" cy="67.3" r="0.55"/><circle cx="240.8" cy="75.1" r="0.55"/><circle cx="242.9" cy="66.6" r="0.55"/><circle cx="244.3" cy="80.5" r="0.55"/><circle cx="244.9" cy="77.3" r="0.55"/><circle cx="245.1" cy="61.2" r="0.55"/><circle cx="245.9" cy="73.3" r="0.55"/><circle cx="243.9" cy="60.1" r="0.55"/><circle cx="250.5" cy="83.5" r="0.55"/><circle cx="245.8" cy="72.9" r="0.55"/><circle cx="246.8" cy="73.8" r="0.55"/><circle cx="242.1" cy="61.2" r="0.55"/><circle cx="246.6" cy="78.6" r="0.55"/><circle cx="247.1" cy="75.3" r="0.55"/><circle cx="245.0" cy="76.1" r="0.55"/><circle cx="248.0" cy="73.4" r="0.55"/><circle cx="247.4" cy="77.7" r="0.55"/><circle cx="243.6" cy="77.4" r="0.55"/><circle cx="243.5" cy="64.2" r="0.55"/><circle cx="248.1" cy="59.6" r="0.55"/><circle cx="244.6" cy="75.7" r="0.55"/><circle cx="245.8" cy="67.6" r="0.55"/><circle cx="243.2" cy="73.2" r="0.55"/><circle cx="246.0" cy="69.5" r="0.55"/><circle cx="243.1" cy="61.0" r="0.55"/><circle cx="245.0" cy="69.7" r="0.55"/></g>
<g fill="#8890c8" opacity="0.4"><circle cx="238.1" cy="75.2" r="0.5"/><circle cx="238.4" cy="73.1" r="0.5"/><circle cx="225.6" cy="78.3" r="0.5"/><circle cx="232.0" cy="74.0" r="0.5"/><circle cx="233.3" cy="73.1" r="0.5"/><circle cx="232.3" cy="72.6" r="0.5"/><circle cx="234.8" cy="74.6" r="0.5"/><circle cx="233.8" cy="76.0" r="0.5"/><circle cx="236.2" cy="71.8" r="0.5"/><circle cx="234.8" cy="75.4" r="0.5"/><circle cx="228.4" cy="75.4" r="0.5"/><circle cx="236.5" cy="77.1" r="0.5"/><circle cx="243.7" cy="75.2" r="0.5"/><circle cx="234.7" cy="80.7" r="0.5"/><circle cx="231.1" cy="74.0" r="0.5"/><circle cx="231.8" cy="74.6" r="0.5"/><circle cx="233.9" cy="76.4" r="0.5"/><circle cx="230.3" cy="73.3" r="0.5"/><circle cx="233.8" cy="73.0" r="0.5"/><circle cx="230.1" cy="76.9" r="0.5"/><circle cx="233.6" cy="73.6" r="0.5"/><circle cx="227.1" cy="73.6" r="0.5"/><circle cx="226.8" cy="77.3" r="0.5"/><circle cx="237.6" cy="76.7" r="0.5"/><circle cx="235.5" cy="74.8" r="0.5"/></g>
<g fill="#a8b0d8" opacity="0.35"><circle cx="234.3" cy="75.4" r="0.5"/><circle cx="233.4" cy="72.2" r="0.5"/><circle cx="224.7" cy="76.7" r="0.5"/><circle cx="236.0" cy="68.5" r="0.5"/><circle cx="231.2" cy="74.8" r="0.5"/><circle cx="236.8" cy="65.2" r="0.5"/><circle cx="222.2" cy="67.0" r="0.5"/><circle cx="223.4" cy="68.7" r="0.5"/><circle cx="239.6" cy="68.3" r="0.5"/><circle cx="249.5" cy="76.6" r="0.5"/><circle cx="238.4" cy="74.7" r="0.5"/><circle cx="239.7" cy="77.2" r="0.5"/><circle cx="239.2" cy="78.4" r="0.5"/><circle cx="237.8" cy="77.2" r="0.5"/><circle cx="241.5" cy="75.1" r="0.5"/><circle cx="229.0" cy="84.2" r="0.5"/><circle cx="229.3" cy="77.3" r="0.5"/><circle cx="249.2" cy="71.3" r="0.5"/><circle cx="230.9" cy="71.1" r="0.5"/><circle cx="225.8" cy="78.8" r="0.5"/><circle cx="231.4" cy="75.8" r="0.5"/><circle cx="219.9" cy="77.8" r="0.5"/><circle cx="227.5" cy="63.8" r="0.5"/><circle cx="227.4" cy="65.7" r="0.5"/><circle cx="245.3" cy="65.3" r="0.5"/><circle cx="235.2" cy="69.0" r="0.5"/><circle cx="226.7" cy="67.6" r="0.5"/><circle cx="242.4" cy="68.6" r="0.5"/><circle cx="228.1" cy="76.4" r="0.5"/><circle cx="230.2" cy="79.0" r="0.5"/><circle cx="227.3" cy="65.6" r="0.5"/><circle cx="236.5" cy="81.9" r="0.5"/><circle cx="237.1" cy="70.2" r="0.5"/><circle cx="242.0" cy="79.6" r="0.5"/><circle cx="230.1" cy="77.5" r="0.5"/><circle cx="232.8" cy="75.7" r="0.5"/><circle cx="238.0" cy="80.1" r="0.5"/><circle cx="233.7" cy="75.4" r="0.5"/><circle cx="213.9" cy="70.3" r="0.5"/><circle cx="236.6" cy="70.4" r="0.5"/><circle cx="235.9" cy="73.9" r="0.5"/><circle cx="233.5" cy="75.6" r="0.5"/><circle cx="243.1" cy="77.9" r="0.5"/><circle cx="233.4" cy="68.2" r="0.5"/><circle cx="235.9" cy="68.8" r="0.5"/><circle cx="242.6" cy="71.0" r="0.5"/><circle cx="228.2" cy="74.2" r="0.5"/><circle cx="225.3" cy="77.9" r="0.5"/><circle cx="235.6" cy="71.1" r="0.5"/><circle cx="228.9" cy="85.6" r="0.5"/><circle cx="242.0" cy="78.2" r="0.5"/><circle cx="235.2" cy="83.7" r="0.5"/><circle cx="230.0" cy="73.5" r="0.5"/><circle cx="232.0" cy="68.9" r="0.5"/><circle cx="226.2" cy="85.7" r="0.5"/><circle cx="234.2" cy="69.9" r="0.5"/><circle cx="231.2" cy="72.2" r="0.5"/><circle cx="229.7" cy="74.7" r="0.5"/><circle cx="221.7" cy="64.7" r="0.5"/><circle cx="231.5" cy="73.7" r="0.5"/></g>
<ellipse cx="223" cy="50.1" rx="9" ry="4.3" fill="#9db2de" opacity="1" filter="url(#blur05)"/>
<ellipse cx="223.8" cy="49.4" rx="5.2" ry="2.9" fill="#7cc44a" opacity="1" filter="url(#blur05)"/>
<ellipse cx="224.3" cy="49.2" rx="1.8" ry="1.2" fill="#4a9a2a" opacity="1" filter="url(#blur05)"/>
<g fill="#3a5ab0" opacity="0.5"><circle cx="216.5" cy="51.9" r="0.5"/><circle cx="218.9" cy="52.3" r="0.5"/><circle cx="220.2" cy="53.7" r="0.5"/><circle cx="226.4" cy="53.0" r="0.5"/><circle cx="221.1" cy="53.3" r="0.5"/><circle cx="223.9" cy="52.7" r="0.5"/><circle cx="224.0" cy="51.4" r="0.5"/><circle cx="224.0" cy="52.8" r="0.5"/><circle cx="222.6" cy="51.8" r="0.5"/><circle cx="219.5" cy="52.9" r="0.5"/><circle cx="219.2" cy="50.4" r="0.5"/><circle cx="227.5" cy="53.8" r="0.5"/><circle cx="218.1" cy="54.1" r="0.5"/><circle cx="213.2" cy="52.9" r="0.5"/><circle cx="223.7" cy="52.4" r="0.5"/><circle cx="220.3" cy="53.2" r="0.5"/><circle cx="223.1" cy="50.3" r="0.5"/><circle cx="218.3" cy="53.6" r="0.5"/><circle cx="223.9" cy="50.3" r="0.5"/><circle cx="215.4" cy="52.7" r="0.5"/><circle cx="217.9" cy="50.9" r="0.5"/><circle cx="219.1" cy="52.4" r="0.5"/><circle cx="213.4" cy="53.2" r="0.5"/><circle cx="219.7" cy="53.4" r="0.5"/><circle cx="216.7" cy="50.7" r="0.5"/><circle cx="223.0" cy="53.6" r="0.5"/><circle cx="220.9" cy="51.5" r="0.5"/><circle cx="226.2" cy="53.7" r="0.5"/><circle cx="222.2" cy="51.7" r="0.5"/><circle cx="225.9" cy="53.1" r="0.5"/></g>
<ellipse cx="223" cy="50.1" rx="9.7" ry="4.8" fill="none" stroke="#1b2340" stroke-width="1.4"/>
<line x1="202.70" y1="88.80" x2="204.20" y2="88.80" stroke="#444" stroke-width="0.6"/>
<text x="201.50" y="90.30" font-size="3.9" text-anchor="end" fill="#444" stroke="#444" stroke-width="0.08">10<tspan font-size="3.0" baseline-shift="1.5">1</tspan></text>
<line x1="202.70" y1="78.10" x2="204.20" y2="78.10" stroke="#444" stroke-width="0.6"/>
<text x="201.50" y="79.60" font-size="3.9" text-anchor="end" fill="#444" stroke="#444" stroke-width="0.08">10<tspan font-size="3.0" baseline-shift="1.5">2</tspan></text>
<line x1="202.70" y1="67.40" x2="204.20" y2="67.40" stroke="#444" stroke-width="0.6"/>
<text x="201.50" y="68.90" font-size="3.9" text-anchor="end" fill="#444" stroke="#444" stroke-width="0.08">10<tspan font-size="3.0" baseline-shift="1.5">3</tspan></text>
<line x1="202.70" y1="56.70" x2="204.20" y2="56.70" stroke="#444" stroke-width="0.6"/>
<text x="201.50" y="58.20" font-size="3.9" text-anchor="end" fill="#444" stroke="#444" stroke-width="0.08">10<tspan font-size="3.0" baseline-shift="1.5">4</tspan></text>
<line x1="202.70" y1="46.00" x2="204.20" y2="46.00" stroke="#444" stroke-width="0.6"/>
<text x="201.50" y="47.50" font-size="3.9" text-anchor="end" fill="#444" stroke="#444" stroke-width="0.08">10<tspan font-size="3.0" baseline-shift="1.5">5</tspan></text>
<line x1="207.00" y1="95.30" x2="207.00" y2="96.80" stroke="#444" stroke-width="0.6"/>
<text x="207.00" y="101.30" font-size="3.9" text-anchor="middle" fill="#444" stroke="#444" stroke-width="0.08">10<tspan font-size="3.0" baseline-shift="1.5">2</tspan></text>
<line x1="220.60" y1="95.30" x2="220.60" y2="96.80" stroke="#444" stroke-width="0.6"/>
<text x="220.60" y="101.30" font-size="3.9" text-anchor="middle" fill="#444" stroke="#444" stroke-width="0.08">10<tspan font-size="3.0" baseline-shift="1.5">2</tspan></text>
<line x1="236.00" y1="95.30" x2="236.00" y2="96.80" stroke="#444" stroke-width="0.6"/>
<text x="236.00" y="101.30" font-size="3.9" text-anchor="middle" fill="#444" stroke="#444" stroke-width="0.08">10<tspan font-size="3.0" baseline-shift="1.5">2</tspan></text>
<line x1="250.50" y1="95.30" x2="250.50" y2="96.80" stroke="#444" stroke-width="0.6"/>
<text x="250.50" y="101.30" font-size="3.9" text-anchor="middle" fill="#444" stroke="#444" stroke-width="0.08">10<tspan font-size="3.0" baseline-shift="1.5">2</tspan></text>
<text x="234.90" y="47.70" font-size="5.6" fill="#222" stroke="#222" stroke-width="0.08" textLength="13.30" lengthAdjust="spacingAndGlyphs">Gr-1<tspan font-size="4.0" baseline-shift="2.0">hi</tspan></text>
<text x="234.60" y="55.40" font-size="5.6" fill="#222" stroke="#222" stroke-width="0.08" textLength="23.40" lengthAdjust="spacingAndGlyphs">CD115<tspan font-size="4.0" baseline-shift="2.0">neg</tspan></text>
<text x="190.90" y="69.70" font-size="8.8" text-anchor="middle" fill="#333" stroke="#333" stroke-width="0.08" transform="rotate(-90 190.90 69.70)" textLength="11.80" lengthAdjust="spacingAndGlyphs">Gr-1</text>
<text x="231.30" y="113.00" font-size="8.2" text-anchor="middle" fill="#333" stroke="#333" stroke-width="0.08" textLength="20.20" lengthAdjust="spacingAndGlyphs">CD115</text>
<rect x="290.6" y="40.5" width="55.2" height="54.5" fill="none" stroke="#ccc" stroke-width="0.7"/>
<line x1="290.60" y1="40.50" x2="290.60" y2="95.00" stroke="#666" stroke-width="0.8"/>
<line x1="290.60" y1="95.00" x2="345.80" y2="95.00" stroke="#666" stroke-width="0.8"/>
<line x1="289.00" y1="93.70" x2="290.60" y2="93.70" stroke="#444" stroke-width="0.6"/>
<text x="288.50" y="95.40" font-size="4.7" text-anchor="end" fill="#222" stroke="#222" stroke-width="0.08">0</text>
<line x1="289.00" y1="83.65" x2="290.60" y2="83.65" stroke="#444" stroke-width="0.6"/>
<text x="288.50" y="85.35" font-size="4.7" text-anchor="end" fill="#222" stroke="#222" stroke-width="0.08">200K</text>
<line x1="289.00" y1="73.60" x2="290.60" y2="73.60" stroke="#444" stroke-width="0.6"/>
<text x="288.50" y="75.30" font-size="4.7" text-anchor="end" fill="#222" stroke="#222" stroke-width="0.08">400K</text>
<line x1="289.00" y1="63.55" x2="290.60" y2="63.55" stroke="#444" stroke-width="0.6"/>
<text x="288.50" y="65.25" font-size="4.7" text-anchor="end" fill="#222" stroke="#222" stroke-width="0.08">600K</text>
<line x1="289.00" y1="53.50" x2="290.60" y2="53.50" stroke="#444" stroke-width="0.6"/>
<text x="288.50" y="55.20" font-size="4.7" text-anchor="end" fill="#222" stroke="#222" stroke-width="0.08">800K</text>
<line x1="289.00" y1="43.45" x2="290.60" y2="43.45" stroke="#444" stroke-width="0.6"/>
<text x="288.50" y="45.15" font-size="4.7" text-anchor="end" fill="#222" stroke="#222" stroke-width="0.08">1.0M</text>
<line x1="296.60" y1="95.00" x2="296.60" y2="96.60" stroke="#444" stroke-width="0.6"/>
<text x="296.60" y="101.00" font-size="3.9" text-anchor="middle" fill="#444" stroke="#444" stroke-width="0.08">10<tspan font-size="3.0" baseline-shift="1.5">2</tspan></text>
<line x1="313.90" y1="95.00" x2="313.90" y2="96.60" stroke="#444" stroke-width="0.6"/>
<text x="313.90" y="101.00" font-size="3.9" text-anchor="middle" fill="#444" stroke="#444" stroke-width="0.08">10<tspan font-size="3.0" baseline-shift="1.5">2</tspan></text>
<line x1="334.50" y1="95.00" x2="334.50" y2="96.60" stroke="#444" stroke-width="0.6"/>
<text x="334.50" y="101.00" font-size="3.9" text-anchor="middle" fill="#444" stroke="#444" stroke-width="0.08">10<tspan font-size="3.0" baseline-shift="1.5">2</tspan></text>
<rect x="299" y="76.4" width="10.2" height="11.6" rx="1.5" fill="#e2e4ee" stroke="#1a1d2a" stroke-width="1.3"/>
<ellipse cx="304" cy="82" rx="2.6" ry="3.6" fill="#9098c4" opacity="0.9" filter="url(#blur05)"/>
<g fill="#4a4f90" opacity="0.5"><circle cx="303.4" cy="85.7" r="0.5"/><circle cx="306.2" cy="82.6" r="0.5"/><circle cx="304.9" cy="84.0" r="0.5"/><circle cx="303.2" cy="79.1" r="0.5"/><circle cx="306.3" cy="78.0" r="0.5"/><circle cx="301.2" cy="78.6" r="0.5"/><circle cx="305.0" cy="84.6" r="0.5"/><circle cx="302.8" cy="85.3" r="0.5"/><circle cx="307.2" cy="85.5" r="0.5"/><circle cx="301.6" cy="85.3" r="0.5"/><circle cx="301.0" cy="85.3" r="0.5"/><circle cx="305.1" cy="82.0" r="0.5"/><circle cx="303.9" cy="77.8" r="0.5"/><circle cx="302.4" cy="82.6" r="0.5"/><circle cx="305.0" cy="84.4" r="0.5"/><circle cx="305.8" cy="80.9" r="0.5"/><circle cx="303.9" cy="85.6" r="0.5"/><circle cx="301.5" cy="83.4" r="0.5"/><circle cx="302.4" cy="82.6" r="0.5"/><circle cx="307.6" cy="83.1" r="0.5"/><circle cx="303.2" cy="80.4" r="0.5"/><circle cx="301.4" cy="82.0" r="0.5"/><circle cx="304.3" cy="79.8" r="0.5"/><circle cx="302.5" cy="85.0" r="0.5"/><circle cx="306.3" cy="82.9" r="0.5"/><circle cx="303.6" cy="85.1" r="0.5"/><circle cx="305.4" cy="82.5" r="0.5"/><circle cx="307.5" cy="81.7" r="0.5"/><circle cx="304.4" cy="84.8" r="0.5"/><circle cx="305.0" cy="82.3" r="0.5"/><circle cx="303.4" cy="83.8" r="0.5"/><circle cx="304.9" cy="82.5" r="0.5"/><circle cx="307.3" cy="81.9" r="0.5"/><circle cx="307.3" cy="79.6" r="0.5"/><circle cx="304.3" cy="80.0" r="0.5"/><circle cx="304.8" cy="83.8" r="0.5"/></g>
<rect x="312.3" y="76.4" width="24.2" height="11.6" rx="1.5" fill="#eceef5" stroke="#1a1d2a" stroke-width="1.3"/>
<ellipse cx="324" cy="82" rx="7" ry="2.5" fill="#c4c9e2" opacity="0.9" filter="url(#blur05)"/>
<g fill="#6a70b0" opacity="0.45"><circle cx="326.8" cy="82.5" r="0.5"/><circle cx="322.9" cy="79.5" r="0.5"/><circle cx="328.3" cy="82.1" r="0.5"/><circle cx="329.7" cy="78.5" r="0.5"/><circle cx="323.0" cy="78.5" r="0.5"/><circle cx="329.4" cy="80.5" r="0.5"/><circle cx="319.2" cy="83.9" r="0.5"/><circle cx="323.7" cy="82.6" r="0.5"/><circle cx="323.7" cy="84.4" r="0.5"/><circle cx="325.5" cy="82.6" r="0.5"/><circle cx="324.1" cy="84.1" r="0.5"/><circle cx="329.6" cy="81.3" r="0.5"/><circle cx="328.3" cy="78.9" r="0.5"/><circle cx="320.3" cy="80.9" r="0.5"/><circle cx="320.6" cy="83.2" r="0.5"/><circle cx="317.5" cy="78.8" r="0.5"/><circle cx="325.1" cy="80.2" r="0.5"/><circle cx="324.4" cy="82.2" r="0.5"/><circle cx="320.9" cy="81.2" r="0.5"/><circle cx="328.2" cy="82.1" r="0.5"/><circle cx="324.5" cy="83.5" r="0.5"/><circle cx="320.6" cy="79.5" r="0.5"/><circle cx="322.4" cy="85.5" r="0.5"/><circle cx="327.0" cy="86.8" r="0.5"/><circle cx="328.9" cy="84.0" r="0.5"/><circle cx="321.7" cy="78.6" r="0.5"/><circle cx="313.9" cy="82.4" r="0.5"/><circle cx="318.7" cy="79.6" r="0.5"/><circle cx="326.8" cy="82.7" r="0.5"/><circle cx="317.9" cy="82.6" r="0.5"/><circle cx="330.8" cy="84.0" r="0.5"/><circle cx="320.8" cy="84.1" r="0.5"/><circle cx="314.5" cy="81.4" r="0.5"/><circle cx="321.9" cy="84.7" r="0.5"/><circle cx="318.2" cy="80.0" r="0.5"/><circle cx="322.5" cy="83.6" r="0.5"/><circle cx="317.3" cy="82.6" r="0.5"/><circle cx="322.4" cy="81.1" r="0.5"/><circle cx="318.0" cy="82.9" r="0.5"/><circle cx="324.8" cy="83.0" r="0.5"/><circle cx="324.9" cy="81.8" r="0.5"/><circle cx="319.8" cy="82.0" r="0.5"/><circle cx="327.9" cy="82.3" r="0.5"/><circle cx="326.7" cy="83.9" r="0.5"/><circle cx="325.7" cy="81.5" r="0.5"/><circle cx="319.4" cy="84.7" r="0.5"/><circle cx="323.3" cy="81.7" r="0.5"/><circle cx="324.5" cy="83.8" r="0.5"/><circle cx="328.3" cy="80.5" r="0.5"/><circle cx="323.7" cy="84.5" r="0.5"/><circle cx="321.2" cy="82.1" r="0.5"/><circle cx="320.0" cy="79.0" r="0.5"/><circle cx="317.9" cy="82.4" r="0.5"/><circle cx="322.9" cy="81.6" r="0.5"/><circle cx="316.6" cy="81.9" r="0.5"/><circle cx="320.3" cy="84.9" r="0.5"/><circle cx="319.3" cy="84.2" r="0.5"/><circle cx="318.4" cy="79.8" r="0.5"/><circle cx="331.0" cy="80.4" r="0.5"/><circle cx="322.0" cy="78.7" r="0.5"/><circle cx="324.8" cy="85.0" r="0.5"/><circle cx="322.7" cy="81.5" r="0.5"/><circle cx="324.1" cy="80.4" r="0.5"/><circle cx="317.9" cy="82.1" r="0.5"/><circle cx="322.5" cy="78.3" r="0.5"/><circle cx="317.9" cy="83.0" r="0.5"/><circle cx="328.4" cy="81.9" r="0.5"/></g>
<text x="294.60" y="64.60" font-size="7.2" fill="#333" stroke="#333" stroke-width="0.08" textLength="21.80" lengthAdjust="spacingAndGlyphs">BrdU<tspan font-size="4.8" baseline-shift="2.5">neg</tspan></text>
<text x="313.60" y="71.80" font-size="7.2" fill="#333" stroke="#333" stroke-width="0.08" textLength="21.10" lengthAdjust="spacingAndGlyphs">BrdU<tspan font-size="4.8" baseline-shift="2.5">pos</tspan></text>
<text x="274.30" y="69.50" font-size="8.8" text-anchor="middle" fill="#333" stroke="#333" stroke-width="0.08" transform="rotate(-90 274.30 69.50)" textLength="11.20" lengthAdjust="spacingAndGlyphs">FSC</text>
<text x="316.40" y="113.00" font-size="8.2" text-anchor="middle" fill="#444" stroke="#444" stroke-width="0.08" textLength="14.80" lengthAdjust="spacingAndGlyphs">BrdU</text>
<line x1="363.00" y1="16.90" x2="375.60" y2="16.90" stroke="#c8281e" stroke-width="1.8"/>
<line x1="363.00" y1="26.90" x2="375.60" y2="26.90" stroke="#000" stroke-width="1.8"/>
<text x="379.30" y="19.20" font-size="5.8" fill="#222" stroke="#222" stroke-width="0.08" textLength="46.50" lengthAdjust="spacingAndGlyphs">BrdU<tspan font-size="4.0" baseline-shift="2.0">pos</tspan> neutrophils</text>
<text x="379.30" y="28.70" font-size="5.8" fill="#222" stroke="#222" stroke-width="0.08" textLength="46.50" lengthAdjust="spacingAndGlyphs">BrdU<tspan font-size="4.0" baseline-shift="2.0">neg</tspan> neutrophils</text>
<line x1="393.30" y1="37.30" x2="393.30" y2="106.10" stroke="#000" stroke-width="1.3"/>
<line x1="392.70" y1="105.50" x2="428.00" y2="105.50" stroke="#000" stroke-width="1.4"/>
<line x1="390.50" y1="89.25" x2="393.30" y2="89.25" stroke="#000" stroke-width="1"/>
<text x="388.10" y="91.45" font-size="6.3" text-anchor="end" fill="#222" stroke="#222" stroke-width="0.08" textLength="13.70" lengthAdjust="spacingAndGlyphs">1000</text>
<line x1="390.50" y1="73.00" x2="393.30" y2="73.00" stroke="#000" stroke-width="1"/>
<text x="388.10" y="75.20" font-size="6.3" text-anchor="end" fill="#222" stroke="#222" stroke-width="0.08" textLength="13.70" lengthAdjust="spacingAndGlyphs">2000</text>
<line x1="390.50" y1="56.75" x2="393.30" y2="56.75" stroke="#000" stroke-width="1"/>
<text x="388.10" y="58.95" font-size="6.3" text-anchor="end" fill="#222" stroke="#222" stroke-width="0.08" textLength="13.70" lengthAdjust="spacingAndGlyphs">3000</text>
<line x1="390.50" y1="40.50" x2="393.30" y2="40.50" stroke="#000" stroke-width="1"/>
<text x="388.10" y="42.70" font-size="6.3" text-anchor="end" fill="#222" stroke="#222" stroke-width="0.08" textLength="13.70" lengthAdjust="spacingAndGlyphs">4000</text>
<rect x="395.50" y="88.44" width="5.50" height="17.06" fill="#c8281e"/>
<line x1="398.25" y1="86.94" x2="398.25" y2="88.44" stroke="#000" stroke-width="1"/>
<line x1="396.75" y1="86.94" x2="399.75" y2="86.94" stroke="#000" stroke-width="1"/>
<rect x="401.60" y="70.89" width="5.50" height="34.61" fill="#000"/>
<line x1="404.35" y1="67.39" x2="404.35" y2="70.89" stroke="#000" stroke-width="1"/>
<line x1="402.85" y1="67.39" x2="405.85" y2="67.39" stroke="#000" stroke-width="1"/>
<text x="404.35" y="66.46" font-size="6.2" text-anchor="middle" fill="#1a1a1a" stroke="#1a1a1a" stroke-width="0.25">#</text>
<rect x="415.40" y="83.24" width="5.50" height="22.26" fill="#c8281e"/>
<line x1="418.15" y1="82.04" x2="418.15" y2="83.24" stroke="#000" stroke-width="1"/>
<line x1="416.65" y1="82.04" x2="419.65" y2="82.04" stroke="#000" stroke-width="1"/>
<rect x="421.50" y="55.12" width="5.50" height="50.38" fill="#000"/>
<line x1="424.25" y1="52.92" x2="424.25" y2="55.12" stroke="#000" stroke-width="1"/>
<line x1="422.75" y1="52.92" x2="425.75" y2="52.92" stroke="#000" stroke-width="1"/>
<text x="424.25" y="49.96" font-size="6.2" text-anchor="middle" fill="#1a1a1a" stroke="#1a1a1a" stroke-width="0.25">#</text>
<text x="358.60" y="70.70" font-size="7" text-anchor="middle" fill="#222" stroke="#222" stroke-width="0.08" transform="rotate(-90 358.60 70.70)" textLength="56.20" lengthAdjust="spacingAndGlyphs">Surface expression</text>
<text x="367.60" y="71.00" font-size="7" text-anchor="middle" fill="#222" stroke="#222" stroke-width="0.08" transform="rotate(-90 367.60 71.00)" textLength="32.70" lengthAdjust="spacingAndGlyphs">level [MFI]</text>
<line x1="476.70" y1="38.00" x2="476.70" y2="106.10" stroke="#000" stroke-width="1.3"/>
<line x1="476.10" y1="105.50" x2="511.50" y2="105.50" stroke="#000" stroke-width="1.4"/>
<line x1="473.90" y1="94.78" x2="476.70" y2="94.78" stroke="#000" stroke-width="1"/>
<text x="471.50" y="96.98" font-size="6.3" text-anchor="end" fill="#222" stroke="#222" stroke-width="0.08" textLength="14.60" lengthAdjust="spacingAndGlyphs">1000</text>
<line x1="473.90" y1="84.06" x2="476.70" y2="84.06" stroke="#000" stroke-width="1"/>
<text x="471.50" y="86.26" font-size="6.3" text-anchor="end" fill="#222" stroke="#222" stroke-width="0.08" textLength="14.60" lengthAdjust="spacingAndGlyphs">2000</text>
<line x1="473.90" y1="73.34" x2="476.70" y2="73.34" stroke="#000" stroke-width="1"/>
<text x="471.50" y="75.54" font-size="6.3" text-anchor="end" fill="#222" stroke="#222" stroke-width="0.08" textLength="14.60" lengthAdjust="spacingAndGlyphs">3000</text>
<line x1="473.90" y1="62.62" x2="476.70" y2="62.62" stroke="#000" stroke-width="1"/>
<text x="471.50" y="64.82" font-size="6.3" text-anchor="end" fill="#222" stroke="#222" stroke-width="0.08" textLength="14.60" lengthAdjust="spacingAndGlyphs">4000</text>
<line x1="473.90" y1="51.90" x2="476.70" y2="51.90" stroke="#000" stroke-width="1"/>
<text x="471.50" y="54.10" font-size="6.3" text-anchor="end" fill="#222" stroke="#222" stroke-width="0.08" textLength="14.60" lengthAdjust="spacingAndGlyphs">5000</text>
<line x1="473.90" y1="41.18" x2="476.70" y2="41.18" stroke="#000" stroke-width="1"/>
<text x="471.50" y="43.38" font-size="6.3" text-anchor="end" fill="#222" stroke="#222" stroke-width="0.08" textLength="14.60" lengthAdjust="spacingAndGlyphs">6000</text>
<rect x="478.00" y="57.80" width="6.30" height="47.70" fill="#c8281e"/>
<line x1="481.15" y1="53.80" x2="481.15" y2="57.80" stroke="#000" stroke-width="1"/>
<line x1="479.65" y1="53.80" x2="482.65" y2="53.80" stroke="#000" stroke-width="1"/>
<rect x="485.00" y="83.52" width="5.80" height="21.98" fill="#000"/>
<line x1="487.90" y1="80.92" x2="487.90" y2="83.52" stroke="#000" stroke-width="1"/>
<line x1="486.40" y1="80.92" x2="489.40" y2="80.92" stroke="#000" stroke-width="1"/>
<text x="487.90" y="78.96" font-size="6.2" text-anchor="middle" fill="#1a1a1a" stroke="#1a1a1a" stroke-width="0.25">#</text>
<rect x="498.40" y="91.78" width="5.80" height="13.72" fill="#c8281e"/>
<line x1="501.30" y1="90.98" x2="501.30" y2="91.78" stroke="#000" stroke-width="1"/>
<line x1="499.80" y1="90.98" x2="502.80" y2="90.98" stroke="#000" stroke-width="1"/>
<rect x="505.00" y="93.92" width="6.00" height="11.58" fill="#000"/>
<line x1="508.00" y1="92.12" x2="508.00" y2="93.92" stroke="#000" stroke-width="1"/>
<line x1="506.50" y1="92.12" x2="509.50" y2="92.12" stroke="#000" stroke-width="1"/>
<text x="442.60" y="71.80" font-size="7" text-anchor="middle" fill="#222" stroke="#222" stroke-width="0.08" transform="rotate(-90 442.60 71.80)" textLength="57.00" lengthAdjust="spacingAndGlyphs">Surface expression</text>
<text x="451.60" y="72.50" font-size="7" text-anchor="middle" fill="#222" stroke="#222" stroke-width="0.08" transform="rotate(-90 451.60 72.50)" textLength="32.70" lengthAdjust="spacingAndGlyphs">level [MFI]</text>
<text x="406.30" y="114.20" font-size="6.0" text-anchor="end" fill="#222" stroke="#222" stroke-width="0.08" transform="rotate(-45 406.30 114.20)" textLength="32.80" lengthAdjust="spacingAndGlyphs">unstimulated</text>
<text x="426.80" y="114.20" font-size="6.0" text-anchor="end" fill="#222" stroke="#222" stroke-width="0.08" transform="rotate(-45 426.80 114.20)" textLength="26.70" lengthAdjust="spacingAndGlyphs">stimulated</text>
<text x="490.00" y="113.50" font-size="6.0" text-anchor="end" fill="#222" stroke="#222" stroke-width="0.08" transform="rotate(-45 490.00 113.50)" textLength="34.60" lengthAdjust="spacingAndGlyphs">unstimulated</text>
<text x="509.70" y="113.50" font-size="6.0" text-anchor="end" fill="#222" stroke="#222" stroke-width="0.08" transform="rotate(-45 509.70 113.50)" textLength="28.10" lengthAdjust="spacingAndGlyphs">stimulated</text>
<text x="411.50" y="149.30" font-size="7.2" text-anchor="middle" fill="#222" stroke="#222" stroke-width="0.08" textLength="21.60" lengthAdjust="spacingAndGlyphs">CXCR4</text>
<text x="494.30" y="149.30" font-size="7.2" text-anchor="middle" fill="#222" stroke="#222" stroke-width="0.08" textLength="19.20" lengthAdjust="spacingAndGlyphs">CD62L</text>
<text x="7.80" y="166.00" font-size="11.5" font-weight="bold" fill="#000">B</text>
<line x1="43.80" y1="173.00" x2="43.80" y2="262.60" stroke="#000" stroke-width="1.4"/>
<line x1="43.10" y1="262.00" x2="163.60" y2="262.00" stroke="#000" stroke-width="1.4"/>
<line x1="41.00" y1="175.40" x2="43.80" y2="175.40" stroke="#000" stroke-width="1"/>
<text x="39.30" y="177.60" font-size="6.3" text-anchor="end" fill="#222" stroke="#222" stroke-width="0.08" textLength="10.00" lengthAdjust="spacingAndGlyphs">100</text>
<line x1="41.00" y1="197.00" x2="43.80" y2="197.00" stroke="#000" stroke-width="1"/>
<text x="39.30" y="199.20" font-size="6.3" text-anchor="end" fill="#222" stroke="#222" stroke-width="0.08" textLength="6.70" lengthAdjust="spacingAndGlyphs">10</text>
<line x1="41.00" y1="218.60" x2="43.80" y2="218.60" stroke="#000" stroke-width="1"/>
<text x="39.30" y="220.80" font-size="6.3" text-anchor="end" fill="#222" stroke="#222" stroke-width="0.08" textLength="3.40" lengthAdjust="spacingAndGlyphs">1</text>
<line x1="41.00" y1="240.20" x2="43.80" y2="240.20" stroke="#000" stroke-width="1"/>
<text x="39.30" y="242.40" font-size="6.3" text-anchor="end" fill="#222" stroke="#222" stroke-width="0.08" textLength="9.10" lengthAdjust="spacingAndGlyphs">0.1</text>
<line x1="41.00" y1="261.80" x2="43.80" y2="261.80" stroke="#000" stroke-width="1"/>
<text x="39.30" y="264.00" font-size="6.3" text-anchor="end" fill="#222" stroke="#222" stroke-width="0.08" textLength="12.90" lengthAdjust="spacingAndGlyphs">0.01</text>
<rect x="51.00" y="223.39" width="4.40" height="38.61" fill="#bdbdbd"/>
<line x1="53.20" y1="221.95" x2="53.20" y2="223.39" stroke="#222" stroke-width="0.9"/>
<line x1="51.70" y1="221.95" x2="54.70" y2="221.95" stroke="#222" stroke-width="0.9"/>
<rect x="57.00" y="240.20" width="4.60" height="21.80" fill="#000"/>
<line x1="59.30" y1="238.11" x2="59.30" y2="240.20" stroke="#000" stroke-width="0.9"/>
<line x1="57.80" y1="238.11" x2="60.80" y2="238.11" stroke="#000" stroke-width="0.9"/>
<text x="59.30" y="237.36" font-size="6.2" text-anchor="middle" fill="#1a1a1a" stroke="#1a1a1a" stroke-width="0.25">#</text>
<rect x="70.20" y="194.91" width="4.40" height="67.09" fill="#bdbdbd"/>
<line x1="72.40" y1="194.54" x2="72.40" y2="194.91" stroke="#222" stroke-width="0.9"/>
<line x1="70.90" y1="194.54" x2="73.90" y2="194.54" stroke="#222" stroke-width="0.9"/>
<rect x="76.20" y="207.99" width="4.60" height="54.01" fill="#000"/>
<line x1="78.50" y1="206.08" x2="78.50" y2="207.99" stroke="#000" stroke-width="0.9"/>
<line x1="77.00" y1="206.08" x2="80.00" y2="206.08" stroke="#000" stroke-width="0.9"/>
<text x="78.50" y="203.36" font-size="6.2" text-anchor="middle" fill="#1a1a1a" stroke="#1a1a1a" stroke-width="0.25">#</text>
<rect x="89.30" y="206.33" width="4.40" height="55.67" fill="#bdbdbd"/>
<line x1="91.50" y1="205.36" x2="91.50" y2="206.33" stroke="#222" stroke-width="0.9"/>
<line x1="90.00" y1="205.36" x2="93.00" y2="205.36" stroke="#222" stroke-width="0.9"/>
<rect x="95.30" y="206.58" width="4.60" height="55.42" fill="#000"/>
<line x1="97.60" y1="205.36" x2="97.60" y2="206.58" stroke="#000" stroke-width="0.9"/>
<line x1="96.10" y1="205.36" x2="99.10" y2="205.36" stroke="#000" stroke-width="0.9"/>
<rect x="108.40" y="230.88" width="4.40" height="31.12" fill="#bdbdbd"/>
<line x1="110.60" y1="225.88" x2="110.60" y2="230.88" stroke="#222" stroke-width="0.9"/>
<line x1="109.10" y1="225.88" x2="112.10" y2="225.88" stroke="#222" stroke-width="0.9"/>
<rect x="114.40" y="212.10" width="4.60" height="49.90" fill="#000"/>
<line x1="116.70" y1="209.64" x2="116.70" y2="212.10" stroke="#000" stroke-width="0.9"/>
<line x1="115.20" y1="209.64" x2="118.20" y2="209.64" stroke="#000" stroke-width="0.9"/>
<text x="116.70" y="207.66" font-size="6.2" text-anchor="middle" fill="#1a1a1a" stroke="#1a1a1a" stroke-width="0.25">#</text>
<rect x="127.40" y="219.59" width="4.40" height="42.41" fill="#bdbdbd"/>
<line x1="129.60" y1="217.71" x2="129.60" y2="219.59" stroke="#222" stroke-width="0.9"/>
<line x1="128.10" y1="217.71" x2="131.10" y2="217.71" stroke="#222" stroke-width="0.9"/>
<rect x="133.40" y="192.02" width="4.60" height="69.98" fill="#000"/>
<line x1="135.70" y1="190.50" x2="135.70" y2="192.02" stroke="#000" stroke-width="0.9"/>
<line x1="134.20" y1="190.50" x2="137.20" y2="190.50" stroke="#000" stroke-width="0.9"/>
<text x="135.70" y="188.46" font-size="6.2" text-anchor="middle" fill="#1a1a1a" stroke="#1a1a1a" stroke-width="0.25">#</text>
<rect x="146.70" y="219.08" width="4.40" height="42.92" fill="#bdbdbd"/>
<line x1="148.90" y1="216.51" x2="148.90" y2="219.08" stroke="#222" stroke-width="0.9"/>
<line x1="147.40" y1="216.51" x2="150.40" y2="216.51" stroke="#222" stroke-width="0.9"/>
<rect x="152.70" y="193.84" width="4.60" height="68.16" fill="#000"/>
<line x1="155.00" y1="192.30" x2="155.00" y2="193.84" stroke="#000" stroke-width="0.9"/>
<line x1="153.50" y1="192.30" x2="156.50" y2="192.30" stroke="#000" stroke-width="0.9"/>
<text x="155.00" y="190.66" font-size="6.2" text-anchor="middle" fill="#1a1a1a" stroke="#1a1a1a" stroke-width="0.25">#</text>
<line x1="43.80" y1="218.70" x2="163.60" y2="218.70" stroke="#000" stroke-width="1.3"/>
<rect x="48.00" y="179.00" width="13.50" height="2.70" fill="#bdbdbd"/>
<rect x="48.00" y="186.30" width="13.50" height="2.60" fill="#000"/>
<text x="65.20" y="182.40" font-size="5.6" fill="#444" stroke="#444" stroke-width="0.08" textLength="10.80" lengthAdjust="spacingAndGlyphs">PBS</text>
<text x="65.20" y="189.80" font-size="5.6" fill="#444" stroke="#444" stroke-width="0.08" textLength="9.80" lengthAdjust="spacingAndGlyphs">LPS</text>
<text x="61.60" y="265.50" font-size="6.3" text-anchor="end" fill="#222" stroke="#222" stroke-width="0.08" transform="rotate(-76 61.60 265.50)" textLength="15.50" lengthAdjust="spacingAndGlyphs">blood</text>
<text x="80.80" y="265.50" font-size="6.3" text-anchor="end" fill="#222" stroke="#222" stroke-width="0.08" transform="rotate(-76 80.80 265.50)" textLength="37.30" lengthAdjust="spacingAndGlyphs">bone marrow</text>
<text x="100.20" y="265.50" font-size="6.3" text-anchor="end" fill="#222" stroke="#222" stroke-width="0.08" transform="rotate(-76 100.20 265.50)" textLength="18.50" lengthAdjust="spacingAndGlyphs">spleen</text>
<text x="119.30" y="265.50" font-size="6.3" text-anchor="end" fill="#222" stroke="#222" stroke-width="0.08" transform="rotate(-76 119.30 265.50)" textLength="12.50" lengthAdjust="spacingAndGlyphs">lung</text>
<text x="139.00" y="265.50" font-size="6.3" text-anchor="end" fill="#222" stroke="#222" stroke-width="0.08" transform="rotate(-76 139.00 265.50)" textLength="12.20" lengthAdjust="spacingAndGlyphs">liver</text>
<text x="157.80" y="265.50" font-size="6.3" text-anchor="end" fill="#222" stroke="#222" stroke-width="0.08" transform="rotate(-76 157.80 265.50)" textLength="18.50" lengthAdjust="spacingAndGlyphs">kidney</text>
<text x="14.90" y="218.60" font-size="8.3" text-anchor="middle" fill="#222" stroke="#222" stroke-width="0.08" transform="rotate(-90 14.90 218.60)" textLength="50.40" lengthAdjust="spacingAndGlyphs">Aged neutrophils</text>
<text x="22.90" y="219.00" font-size="8.1" text-anchor="middle" fill="#222" stroke="#222" stroke-width="0.08" transform="rotate(-90 22.90 219.00)" textLength="72.00" lengthAdjust="spacingAndGlyphs">[n x 10<tspan font-size="4.8" baseline-shift="2.4">6</tspan> cells per organ]</text>
<line x1="213.00" y1="194.50" x2="213.00" y2="262.40" stroke="#000" stroke-width="1.4"/>
<line x1="212.30" y1="261.80" x2="250.50" y2="261.80" stroke="#000" stroke-width="1.4"/>
<line x1="210.30" y1="195.00" x2="250.20" y2="195.00" stroke="#000" stroke-width="1.3"/>
<line x1="210.20" y1="261.80" x2="213.00" y2="261.80" stroke="#000" stroke-width="1"/>
<text x="208.50" y="264.00" font-size="6.3" text-anchor="end" fill="#222" stroke="#222" stroke-width="0.08" textLength="3.40" lengthAdjust="spacingAndGlyphs">0</text>
<line x1="210.20" y1="248.48" x2="213.00" y2="248.48" stroke="#000" stroke-width="1"/>
<text x="208.50" y="250.68" font-size="6.3" text-anchor="end" fill="#222" stroke="#222" stroke-width="0.08" textLength="6.70" lengthAdjust="spacingAndGlyphs">20</text>
<line x1="210.20" y1="235.16" x2="213.00" y2="235.16" stroke="#000" stroke-width="1"/>
<text x="208.50" y="237.36" font-size="6.3" text-anchor="end" fill="#222" stroke="#222" stroke-width="0.08" textLength="6.70" lengthAdjust="spacingAndGlyphs">40</text>
<line x1="210.20" y1="221.84" x2="213.00" y2="221.84" stroke="#000" stroke-width="1"/>
<text x="208.50" y="224.04" font-size="6.3" text-anchor="end" fill="#222" stroke="#222" stroke-width="0.08" textLength="6.70" lengthAdjust="spacingAndGlyphs">60</text>
<line x1="210.20" y1="208.52" x2="213.00" y2="208.52" stroke="#000" stroke-width="1"/>
<text x="208.50" y="210.72" font-size="6.3" text-anchor="end" fill="#222" stroke="#222" stroke-width="0.08" textLength="6.70" lengthAdjust="spacingAndGlyphs">80</text>
<line x1="210.20" y1="195.20" x2="213.00" y2="195.20" stroke="#000" stroke-width="1"/>
<text x="208.50" y="197.40" font-size="6.3" text-anchor="end" fill="#222" stroke="#222" stroke-width="0.08" textLength="10.00" lengthAdjust="spacingAndGlyphs">100</text>
<rect x="217.80" y="195.20" width="5.30" height="32.30" fill="#c8281e"/>
<rect x="217.80" y="227.50" width="5.30" height="34.30" fill="#000"/>
<rect x="229.00" y="195.20" width="5.30" height="12.65" fill="#c8281e"/>
<rect x="229.00" y="207.85" width="5.30" height="53.95" fill="#000"/>
<rect x="240.60" y="195.20" width="5.30" height="17.65" fill="#c8281e"/>
<rect x="240.60" y="212.85" width="5.30" height="48.95" fill="#000"/>
<text x="223.20" y="266.60" font-size="6.0" text-anchor="end" fill="#222" stroke="#222" stroke-width="0.08" transform="rotate(-70 223.20 266.60)" textLength="11.50" lengthAdjust="spacingAndGlyphs">lung</text>
<text x="234.40" y="266.60" font-size="6.0" text-anchor="end" fill="#222" stroke="#222" stroke-width="0.08" transform="rotate(-70 234.40 266.60)" textLength="11.50" lengthAdjust="spacingAndGlyphs">liver</text>
<text x="246.00" y="266.60" font-size="6.0" text-anchor="end" fill="#222" stroke="#222" stroke-width="0.08" transform="rotate(-70 246.00 266.60)" textLength="16.00" lengthAdjust="spacingAndGlyphs">kidney</text>
<line x1="215.40" y1="285.60" x2="248.60" y2="285.60" stroke="#000" stroke-width="1.3"/>
<text x="231.70" y="295.50" font-size="7.0" text-anchor="middle" fill="#333" stroke="#333" stroke-width="0.08" textLength="12.00" lengthAdjust="spacingAndGlyphs">LPS</text>
<line x1="186.90" y1="180.00" x2="198.40" y2="180.00" stroke="#000" stroke-width="1.8"/>
<line x1="186.90" y1="186.70" x2="198.40" y2="186.70" stroke="#c8281e" stroke-width="1.8"/>
<text x="202.75" y="181.20" font-size="5.5" fill="#222" stroke="#222" stroke-width="0.08" textLength="40.40" lengthAdjust="spacingAndGlyphs">aged neutrophils</text>
<text x="202.75" y="188.20" font-size="5.5" fill="#222" stroke="#222" stroke-width="0.08" textLength="51.30" lengthAdjust="spacingAndGlyphs">non-aged neutrophils</text>
<text x="185.80" y="228.60" font-size="6.9" text-anchor="middle" fill="#222" stroke="#222" stroke-width="0.08" transform="rotate(-90 185.80 228.60)" textLength="65.40" lengthAdjust="spacingAndGlyphs">Neutrophils per organ</text>
<text x="194.00" y="228.75" font-size="6.9" text-anchor="middle" fill="#222" stroke="#222" stroke-width="0.08" transform="rotate(-90 194.00 228.75)" textLength="69.30" lengthAdjust="spacingAndGlyphs">[% of total neutrophils]</text>
<text x="273.60" y="166.50" font-size="11.5" font-weight="bold" fill="#000">C</text>
<text x="279.80" y="191.00" font-size="6.5" fill="#222" stroke="#222" stroke-width="0.08" textLength="63.90" lengthAdjust="spacingAndGlyphs">untouched neutrophils</text>
<text x="279.80" y="198.00" font-size="6.5" fill="#222" stroke="#222" stroke-width="0.08" textLength="72.40" lengthAdjust="spacingAndGlyphs">from blood of Selp<tspan font-size="3.8" baseline-shift="2.2">-/-</tspan> mice</text>
<text x="279.80" y="233.40" font-size="6.5" fill="#222" stroke="#222" stroke-width="0.08" textLength="63.90" lengthAdjust="spacingAndGlyphs">untouched neutrophils</text>
<text x="279.80" y="240.30" font-size="6.5" fill="#222" stroke="#222" stroke-width="0.08" textLength="64.70" lengthAdjust="spacingAndGlyphs">from blood of WT mice</text>
<g transform="translate(280 202) scale(1.0)" fill="none" stroke="#1a1a1a" stroke-width="0.85" stroke-linecap="round" stroke-linejoin="round"><path d="M0.5,6.3 C2,4.6 4,3.6 6,3.3 C9,1.6 12,1 15,1 C19,1.2 22,4 23.5,7.5 C24.8,10 24.8,13 22.5,14 C20,14.8 17,14.3 15.5,12.5 C13,12.6 10,12.4 7,11.5 C4.5,10.6 2,8.6 0.5,6.3 Z"/><path d="M15.5,12.5 C16,10.5 18.5,10 20.5,11 C22,12 21.5,14 20,14.3"/><path d="M14.5,9.5 C14.8,7.5 16,6.2 17.5,5.8"/><path d="M8,11.5 L7.3,13 M11,12.4 L11,13.8 L12.4,13.8"/></g>
<ellipse cx="285.90" cy="205.20" rx="1.50" ry="0.90" fill="#111" transform="rotate(20 285.90 205.20)"/>
<g transform="translate(280 243.7) scale(1.0)" fill="none" stroke="#1a1a1a" stroke-width="0.85" stroke-linecap="round" stroke-linejoin="round"><path d="M0.5,6.3 C2,4.6 4,3.6 6,3.3 C9,1.6 12,1 15,1 C19,1.2 22,4 23.5,7.5 C24.8,10 24.8,13 22.5,14 C20,14.8 17,14.3 15.5,12.5 C13,12.6 10,12.4 7,11.5 C4.5,10.6 2,8.6 0.5,6.3 Z"/><path d="M15.5,12.5 C16,10.5 18.5,10 20.5,11 C22,12 21.5,14 20,14.3"/><path d="M14.5,9.5 C14.8,7.5 16,6.2 17.5,5.8"/><path d="M8,11.5 L7.3,13 M11,12.4 L11,13.8 L12.4,13.8"/></g>
<ellipse cx="285.90" cy="246.90" rx="1.50" ry="0.90" fill="#111" transform="rotate(20 285.90 246.90)"/>
<g transform="translate(365.7 224.2) scale(1.0)" fill="none" stroke="#1a1a1a" stroke-width="0.85" stroke-linecap="round" stroke-linejoin="round"><path d="M0.5,6.3 C2,4.6 4,3.6 6,3.3 C9,1.6 12,1 15,1 C19,1.2 22,4 23.5,7.5 C24.8,10 24.8,13 22.5,14 C20,14.8 17,14.3 15.5,12.5 C13,12.6 10,12.4 7,11.5 C4.5,10.6 2,8.6 0.5,6.3 Z"/><path d="M15.5,12.5 C16,10.5 18.5,10 20.5,11 C22,12 21.5,14 20,14.3"/><path d="M14.5,9.5 C14.8,7.5 16,6.2 17.5,5.8"/><path d="M8,11.5 L7.3,13 M11,12.4 L11,13.8 L12.4,13.8"/></g>
<ellipse cx="371.60" cy="227.40" rx="1.50" ry="0.90" fill="#111" transform="rotate(20 371.60 227.40)"/>
<line x1="306.80" y1="208.80" x2="313.70" y2="208.80" stroke="#000" stroke-width="1.0"/>
<path d="M316.40,208.80 L313.40,210.45 L313.40,207.15 Z" fill="#000"/>
<line x1="333.80" y1="208.80" x2="341.20" y2="208.80" stroke="#000" stroke-width="1.0"/>
<path d="M343.90,208.80 L340.90,210.45 L340.90,207.15 Z" fill="#000"/>
<line x1="306.80" y1="251.20" x2="313.70" y2="251.20" stroke="#000" stroke-width="1.0"/>
<path d="M316.40,251.20 L313.40,252.85 L313.40,249.55 Z" fill="#000"/>
<line x1="333.80" y1="251.20" x2="341.20" y2="251.20" stroke="#000" stroke-width="1.0"/>
<path d="M343.90,251.20 L340.90,252.85 L340.90,249.55 Z" fill="#000"/>
<circle cx="321.30" cy="206.80" r="1.90" fill="#b4bfe4"/>
<circle cx="320.80" cy="206.40" r="0.55" fill="#2a3570"/>
<circle cx="321.80" cy="206.90" r="0.55" fill="#2a3570"/>
<circle cx="321.20" cy="207.50" r="0.50" fill="#2a3570"/>
<circle cx="328.10" cy="206.80" r="1.90" fill="#b4bfe4"/>
<circle cx="327.60" cy="206.40" r="0.55" fill="#2a3570"/>
<circle cx="328.60" cy="206.90" r="0.55" fill="#2a3570"/>
<circle cx="328.00" cy="207.50" r="0.50" fill="#2a3570"/>
<circle cx="324.70" cy="211.40" r="1.90" fill="#b4bfe4"/>
<circle cx="324.20" cy="211.00" r="0.55" fill="#2a3570"/>
<circle cx="325.20" cy="211.50" r="0.55" fill="#2a3570"/>
<circle cx="324.60" cy="212.10" r="0.50" fill="#2a3570"/>
<circle cx="321.60" cy="248.60" r="1.90" fill="#b4bfe4"/>
<circle cx="321.10" cy="248.20" r="0.55" fill="#2a3570"/>
<circle cx="322.10" cy="248.70" r="0.55" fill="#2a3570"/>
<circle cx="321.50" cy="249.30" r="0.50" fill="#2a3570"/>
<circle cx="328.20" cy="248.60" r="1.90" fill="#b4bfe4"/>
<circle cx="327.70" cy="248.20" r="0.55" fill="#2a3570"/>
<circle cx="328.70" cy="248.70" r="0.55" fill="#2a3570"/>
<circle cx="328.10" cy="249.30" r="0.50" fill="#2a3570"/>
<circle cx="324.90" cy="253.30" r="1.90" fill="#b4bfe4"/>
<circle cx="324.40" cy="252.90" r="0.55" fill="#2a3570"/>
<circle cx="325.40" cy="253.40" r="0.55" fill="#2a3570"/>
<circle cx="324.80" cy="254.00" r="0.50" fill="#2a3570"/>
<circle cx="350.10" cy="206.50" r="2.30" fill="#7e1f3e"/>
<circle cx="350.10" cy="206.50" r="2.30" fill="none" stroke="#b05070" stroke-width="0.5"/>
<circle cx="355.70" cy="206.50" r="2.30" fill="#7e1f3e"/>
<circle cx="355.70" cy="206.50" r="2.30" fill="none" stroke="#b05070" stroke-width="0.5"/>
<circle cx="352.80" cy="211.30" r="2.30" fill="#7e1f3e"/>
<circle cx="352.80" cy="211.30" r="2.30" fill="none" stroke="#b05070" stroke-width="0.5"/>
<circle cx="349.60" cy="248.40" r="2.30" fill="#3b6e3b"/>
<circle cx="349.60" cy="248.40" r="2.30" fill="none" stroke="#6a9a6a" stroke-width="0.5"/>
<circle cx="355.70" cy="248.40" r="2.30" fill="#3b6e3b"/>
<circle cx="355.70" cy="248.40" r="2.30" fill="none" stroke="#6a9a6a" stroke-width="0.5"/>
<circle cx="352.80" cy="253.20" r="2.30" fill="#3b6e3b"/>
<circle cx="352.80" cy="253.20" r="2.30" fill="none" stroke="#6a9a6a" stroke-width="0.5"/>
<text x="352.10" y="224.20" font-size="5.8" text-anchor="middle" fill="#b8506e" stroke="#b8506e" stroke-width="0.05" textLength="18.60" lengthAdjust="spacingAndGlyphs">CMTPX</text>
<text x="350.90" y="264.50" font-size="5.8" text-anchor="middle" fill="#78ac62" stroke="#78ac62" stroke-width="0.05" textLength="16.20" lengthAdjust="spacingAndGlyphs">CMFDA</text>
<line x1="362.40" y1="211.40" x2="371.26" y2="220.51" stroke="#000" stroke-width="1.1"/>
<path d="M373.00,222.30 L369.94,221.37 L372.15,219.22 Z" fill="#000"/>
<line x1="362.40" y1="248.90" x2="371.22" y2="240.16" stroke="#000" stroke-width="1.1"/>
<path d="M373.00,238.40 L372.09,241.46 L369.93,239.28 Z" fill="#000"/>
<svg x="397.3" y="183.5" width="115.4" height="80.7" viewBox="0 0 115.4 80.7">
<defs><filter id="stL" x="0" y="0" width="100%" height="100%"><feTurbulence type="fractalNoise" baseFrequency="0.22 0.03" numOctaves="3" seed="7"/><feColorMatrix type="luminanceToAlpha" result="n"/><feComponentTransfer in="n" result="al"><feFuncA type="linear" slope="3.4" intercept="-1.45"/></feComponentTransfer><feFlood flood-color="#e4e4e4"/><feComposite in2="al" operator="in"/></filter><filter id="stD" x="0" y="0" width="100%" height="100%"><feTurbulence type="fractalNoise" baseFrequency="0.24 0.03" numOctaves="3" seed="19"/><feColorMatrix type="luminanceToAlpha" result="n"/><feComponentTransfer in="n" result="al"><feFuncA type="linear" slope="3.4" intercept="-1.45"/></feComponentTransfer><feFlood flood-color="#262626"/><feComposite in2="al" operator="in"/></filter><linearGradient id="mg" x1="0" y1="0" x2="1" y2="1"><stop offset="0" stop-color="#a8a8a8"/><stop offset="0.55" stop-color="#8c8c8c"/><stop offset="1" stop-color="#7c7c7c"/></linearGradient></defs>
<rect width="115.4" height="80.7" fill="#929292"/>
<ellipse cx="100" cy="14" rx="24" ry="18" fill="#b4b4b4" opacity="0.7" filter="url(#blur2)"/>
<ellipse cx="30" cy="14" rx="28" ry="14" fill="#a4a4a4" opacity="0.6" filter="url(#blur2)"/>
<ellipse cx="38" cy="66" rx="30" ry="13" fill="#9c9c9c" opacity="0.6" filter="url(#blur2)"/>
<path d="M66,58 L116,60 L116,81 L84,81 Z" fill="#5e5e5e" opacity="0.75" filter="url(#blur2)"/>
<g transform="rotate(-32 58 40)" opacity="0.8"><rect x="-60" y="-60" width="240" height="200" filter="url(#stL)"/></g>
<g transform="rotate(-28 58 40)" opacity="0.7"><rect x="-60" y="-60" width="240" height="200" filter="url(#stD)"/></g>
<path d="M0,35 C20,35 45,33 70,33 C90,34 105,37 116,41 L116,63 C100,58 85,55 70,54 C45,52 20,51 0,50 Z" fill="#5c5862" opacity="0.45" filter="url(#blur2)"/>
<path d="M0,50 C20,51 45,52 70,54 C85,55 100,58 116,63" fill="none" stroke="#2a2a2a" stroke-width="1.0" opacity="0.35" stroke-dasharray="2 1.2"/>
<path d="M22,33 C40,31 60,30 75,31" fill="none" stroke="#2a2a2a" stroke-width="1.0" opacity="0.35" stroke-dasharray="1.6 1.2"/>
<line x1="80.50" y1="-2.00" x2="103.00" y2="42.00" stroke="#1a1a1a" stroke-width="3.0" opacity="0.85" stroke-linecap="round"/>
<line x1="103.00" y1="42.00" x2="116.00" y2="67.00" stroke="#222" stroke-width="2.2" opacity="0.6" stroke-linecap="round"/>
<line x1="86.00" y1="-2.00" x2="108.00" y2="40.00" stroke="#d8d8d8" stroke-width="1.0" opacity="0.6" stroke-linecap="round"/>
<line x1="96.00" y1="-2.00" x2="116.00" y2="32.00" stroke="#d0d0d0" stroke-width="1.0" opacity="0.5" stroke-linecap="round"/>
<line x1="88.00" y1="50.00" x2="108.00" y2="81.00" stroke="#2a2a2a" stroke-width="1.2" opacity="0.5" stroke-linecap="round"/>
<circle cx="10.40" cy="42.70" r="5.00" fill="#c85050" opacity="0.35" filter="url(#blur1)"/>
<circle cx="10.40" cy="42.70" r="3.00" fill="#c85050" opacity="0.8" filter="url(#blur05)"/>
<circle cx="23.10" cy="39.20" r="5.50" fill="#d05050" opacity="0.35" filter="url(#blur1)"/>
<circle cx="23.10" cy="39.20" r="3.50" fill="#d05050" opacity="0.8" filter="url(#blur05)"/>
<circle cx="66.90" cy="39.20" r="6.00" fill="#d45454" opacity="0.35" filter="url(#blur1)"/>
<circle cx="66.90" cy="39.20" r="4.00" fill="#d45454" opacity="0.8" filter="url(#blur05)"/>
<circle cx="93.50" cy="45.00" r="5.10" fill="#48d040" opacity="0.35" filter="url(#blur1)"/>
<circle cx="93.50" cy="45.00" r="3.10" fill="#48d040" opacity="0.8" filter="url(#blur05)"/>
<circle cx="94.00" cy="44.50" r="1.30" fill="#a0f090" opacity="0.7"/>
<circle cx="16.00" cy="46.00" r="1.60" fill="#3a8a7a" opacity="0.45" filter="url(#blur05)"/>
<circle cx="35.00" cy="42.00" r="1.60" fill="#3a8a7a" opacity="0.45" filter="url(#blur05)"/>
<circle cx="48.00" cy="40.00" r="1.60" fill="#3a8a7a" opacity="0.45" filter="url(#blur05)"/>
<circle cx="58.00" cy="44.00" r="1.60" fill="#3a8a7a" opacity="0.45" filter="url(#blur05)"/>
<circle cx="78.00" cy="41.00" r="1.60" fill="#3a8a7a" opacity="0.45" filter="url(#blur05)"/>
<circle cx="84.00" cy="47.00" r="1.60" fill="#3a8a7a" opacity="0.45" filter="url(#blur05)"/>
<circle cx="102.00" cy="48.00" r="1.60" fill="#3a8a7a" opacity="0.45" filter="url(#blur05)"/>
<circle cx="74.00" cy="49.00" r="1.60" fill="#3a8a7a" opacity="0.45" filter="url(#blur05)"/>
<rect x="86.70" y="76.20" width="20.70" height="1.60" fill="#fff"/>
</svg>
<text x="7.60" y="317.30" font-size="11.5" font-weight="bold" fill="#000">D</text>
<line x1="44.30" y1="319.50" x2="44.30" y2="398.00" stroke="#000" stroke-width="1.2"/>
<line x1="43.70" y1="397.40" x2="150.00" y2="397.40" stroke="#000" stroke-width="1.2"/>
<line x1="41.50" y1="397.40" x2="44.30" y2="397.40" stroke="#000" stroke-width="1"/>
<text x="39.50" y="399.60" font-size="6.2" text-anchor="end" fill="#222" stroke="#222" stroke-width="0.08" textLength="3.35" lengthAdjust="spacingAndGlyphs">0</text>
<line x1="41.50" y1="382.50" x2="44.30" y2="382.50" stroke="#000" stroke-width="1"/>
<text x="39.50" y="384.70" font-size="6.2" text-anchor="end" fill="#222" stroke="#222" stroke-width="0.08" textLength="6.70" lengthAdjust="spacingAndGlyphs">10</text>
<line x1="41.50" y1="367.60" x2="44.30" y2="367.60" stroke="#000" stroke-width="1"/>
<text x="39.50" y="369.80" font-size="6.2" text-anchor="end" fill="#222" stroke="#222" stroke-width="0.08" textLength="6.70" lengthAdjust="spacingAndGlyphs">20</text>
<line x1="41.50" y1="352.70" x2="44.30" y2="352.70" stroke="#000" stroke-width="1"/>
<text x="39.50" y="354.90" font-size="6.2" text-anchor="end" fill="#222" stroke="#222" stroke-width="0.08" textLength="6.70" lengthAdjust="spacingAndGlyphs">30</text>
<line x1="41.50" y1="337.80" x2="44.30" y2="337.80" stroke="#000" stroke-width="1"/>
<text x="39.50" y="340.00" font-size="6.2" text-anchor="end" fill="#222" stroke="#222" stroke-width="0.08" textLength="6.70" lengthAdjust="spacingAndGlyphs">40</text>
<line x1="41.50" y1="322.90" x2="44.30" y2="322.90" stroke="#000" stroke-width="1"/>
<text x="39.50" y="325.10" font-size="6.2" text-anchor="end" fill="#222" stroke="#222" stroke-width="0.08" textLength="6.70" lengthAdjust="spacingAndGlyphs">50</text>
<line x1="57.30" y1="397.40" x2="57.30" y2="399.60" stroke="#000" stroke-width="1"/>
<text x="57.30" y="407.50" font-size="6.2" text-anchor="middle" fill="#222" stroke="#222" stroke-width="0.08" textLength="3.35" lengthAdjust="spacingAndGlyphs">0</text>
<line x1="70.23" y1="397.40" x2="70.23" y2="399.60" stroke="#000" stroke-width="1"/>
<text x="70.23" y="407.50" font-size="6.2" text-anchor="middle" fill="#222" stroke="#222" stroke-width="0.08" textLength="6.70" lengthAdjust="spacingAndGlyphs">30</text>
<line x1="83.16" y1="397.40" x2="83.16" y2="399.60" stroke="#000" stroke-width="1"/>
<text x="83.16" y="407.50" font-size="6.2" text-anchor="middle" fill="#222" stroke="#222" stroke-width="0.08" textLength="6.70" lengthAdjust="spacingAndGlyphs">60</text>
<line x1="96.09" y1="397.40" x2="96.09" y2="399.60" stroke="#000" stroke-width="1"/>
<text x="96.09" y="407.50" font-size="6.2" text-anchor="middle" fill="#222" stroke="#222" stroke-width="0.08" textLength="6.70" lengthAdjust="spacingAndGlyphs">90</text>
<line x1="109.02" y1="397.40" x2="109.02" y2="399.60" stroke="#000" stroke-width="1"/>
<text x="109.02" y="407.50" font-size="6.2" text-anchor="middle" fill="#222" stroke="#222" stroke-width="0.08" textLength="10.05" lengthAdjust="spacingAndGlyphs">120</text>
<line x1="121.95" y1="397.40" x2="121.95" y2="399.60" stroke="#000" stroke-width="1"/>
<text x="121.95" y="407.50" font-size="6.2" text-anchor="middle" fill="#222" stroke="#222" stroke-width="0.08" textLength="10.05" lengthAdjust="spacingAndGlyphs">150</text>
<line x1="134.88" y1="397.40" x2="134.88" y2="399.60" stroke="#000" stroke-width="1"/>
<text x="134.88" y="407.50" font-size="6.2" text-anchor="middle" fill="#222" stroke="#222" stroke-width="0.08" textLength="10.05" lengthAdjust="spacingAndGlyphs">180</text>
<line x1="44.37" y1="397.40" x2="44.37" y2="399.60" stroke="#000" stroke-width="1"/>
<line x1="147.81" y1="397.40" x2="147.81" y2="399.60" stroke="#000" stroke-width="1"/>
<polyline points="57.30,382.65 70.23,383.99 83.16,377.43 96.09,381.46 109.02,383.99 121.95,383.99 134.88,383.10" fill="none" stroke="#4a8232" stroke-width="1.9" stroke-linejoin="round"/>
<polyline points="57.30,350.17 70.23,362.98 83.16,351.95 96.09,372.37 109.02,370.13 121.95,374.75 134.88,374.45" fill="none" stroke="#b0231f" stroke-width="1.9" stroke-linejoin="round"/>
<line x1="57.30" y1="380.65" x2="57.30" y2="384.65" stroke="#000" stroke-width="0.9"/>
<line x1="55.90" y1="380.65" x2="58.70" y2="380.65" stroke="#000" stroke-width="0.9"/>
<line x1="55.90" y1="384.65" x2="58.70" y2="384.65" stroke="#000" stroke-width="0.9"/>
<circle cx="57.30" cy="382.65" r="1.35" fill="#000"/>
<line x1="70.23" y1="380.99" x2="70.23" y2="386.99" stroke="#000" stroke-width="0.9"/>
<line x1="68.83" y1="380.99" x2="71.63" y2="380.99" stroke="#000" stroke-width="0.9"/>
<line x1="68.83" y1="386.99" x2="71.63" y2="386.99" stroke="#000" stroke-width="0.9"/>
<circle cx="70.23" cy="383.99" r="1.35" fill="#000"/>
<line x1="83.16" y1="374.93" x2="83.16" y2="379.93" stroke="#000" stroke-width="0.9"/>
<line x1="81.76" y1="374.93" x2="84.56" y2="374.93" stroke="#000" stroke-width="0.9"/>
<line x1="81.76" y1="379.93" x2="84.56" y2="379.93" stroke="#000" stroke-width="0.9"/>
<circle cx="83.16" cy="377.43" r="1.35" fill="#000"/>
<line x1="96.09" y1="379.46" x2="96.09" y2="383.46" stroke="#000" stroke-width="0.9"/>
<line x1="94.69" y1="379.46" x2="97.49" y2="379.46" stroke="#000" stroke-width="0.9"/>
<line x1="94.69" y1="383.46" x2="97.49" y2="383.46" stroke="#000" stroke-width="0.9"/>
<circle cx="96.09" cy="381.46" r="1.35" fill="#000"/>
<line x1="109.02" y1="381.99" x2="109.02" y2="385.99" stroke="#000" stroke-width="0.9"/>
<line x1="107.62" y1="381.99" x2="110.42" y2="381.99" stroke="#000" stroke-width="0.9"/>
<line x1="107.62" y1="385.99" x2="110.42" y2="385.99" stroke="#000" stroke-width="0.9"/>
<circle cx="109.02" cy="383.99" r="1.35" fill="#000"/>
<line x1="121.95" y1="381.49" x2="121.95" y2="386.49" stroke="#000" stroke-width="0.9"/>
<line x1="120.55" y1="381.49" x2="123.35" y2="381.49" stroke="#000" stroke-width="0.9"/>
<line x1="120.55" y1="386.49" x2="123.35" y2="386.49" stroke="#000" stroke-width="0.9"/>
<circle cx="121.95" cy="383.99" r="1.35" fill="#000"/>
<line x1="134.88" y1="381.60" x2="134.88" y2="384.60" stroke="#000" stroke-width="0.9"/>
<line x1="133.48" y1="381.60" x2="136.28" y2="381.60" stroke="#000" stroke-width="0.9"/>
<line x1="133.48" y1="384.60" x2="136.28" y2="384.60" stroke="#000" stroke-width="0.9"/>
<circle cx="134.88" cy="383.10" r="1.35" fill="#000"/>
<line x1="57.30" y1="347.17" x2="57.30" y2="353.17" stroke="#000" stroke-width="0.9"/>
<line x1="55.90" y1="347.17" x2="58.70" y2="347.17" stroke="#000" stroke-width="0.9"/>
<line x1="55.90" y1="353.17" x2="58.70" y2="353.17" stroke="#000" stroke-width="0.9"/>
<circle cx="57.30" cy="350.17" r="1.35" fill="#000"/>
<line x1="70.23" y1="359.98" x2="70.23" y2="365.98" stroke="#000" stroke-width="0.9"/>
<line x1="68.83" y1="359.98" x2="71.63" y2="359.98" stroke="#000" stroke-width="0.9"/>
<line x1="68.83" y1="365.98" x2="71.63" y2="365.98" stroke="#000" stroke-width="0.9"/>
<circle cx="70.23" cy="362.98" r="1.35" fill="#000"/>
<line x1="83.16" y1="348.95" x2="83.16" y2="354.95" stroke="#000" stroke-width="0.9"/>
<line x1="81.76" y1="348.95" x2="84.56" y2="348.95" stroke="#000" stroke-width="0.9"/>
<line x1="81.76" y1="354.95" x2="84.56" y2="354.95" stroke="#000" stroke-width="0.9"/>
<circle cx="83.16" cy="351.95" r="1.35" fill="#000"/>
<line x1="96.09" y1="370.87" x2="96.09" y2="373.87" stroke="#000" stroke-width="0.9"/>
<line x1="94.69" y1="370.87" x2="97.49" y2="370.87" stroke="#000" stroke-width="0.9"/>
<line x1="94.69" y1="373.87" x2="97.49" y2="373.87" stroke="#000" stroke-width="0.9"/>
<circle cx="96.09" cy="372.37" r="1.35" fill="#000"/>
<line x1="109.02" y1="367.13" x2="109.02" y2="373.13" stroke="#000" stroke-width="0.9"/>
<line x1="107.62" y1="367.13" x2="110.42" y2="367.13" stroke="#000" stroke-width="0.9"/>
<line x1="107.62" y1="373.13" x2="110.42" y2="373.13" stroke="#000" stroke-width="0.9"/>
<circle cx="109.02" cy="370.13" r="1.35" fill="#000"/>
<line x1="121.95" y1="372.25" x2="121.95" y2="377.25" stroke="#000" stroke-width="0.9"/>
<line x1="120.55" y1="372.25" x2="123.35" y2="372.25" stroke="#000" stroke-width="0.9"/>
<line x1="120.55" y1="377.25" x2="123.35" y2="377.25" stroke="#000" stroke-width="0.9"/>
<circle cx="121.95" cy="374.75" r="1.35" fill="#000"/>
<line x1="134.88" y1="372.95" x2="134.88" y2="375.95" stroke="#000" stroke-width="0.9"/>
<line x1="133.48" y1="372.95" x2="136.28" y2="372.95" stroke="#000" stroke-width="0.9"/>
<line x1="133.48" y1="375.95" x2="136.28" y2="375.95" stroke="#000" stroke-width="0.9"/>
<circle cx="134.88" cy="374.45" r="1.35" fill="#000"/>
<text x="57.30" y="343.46" font-size="6.2" text-anchor="middle" fill="#1a1a1a" stroke="#1a1a1a" stroke-width="0.25">#</text>
<text x="70.23" y="357.16" font-size="6.2" text-anchor="middle" fill="#1a1a1a" stroke="#1a1a1a" stroke-width="0.25">#</text>
<text x="83.16" y="346.16" font-size="6.2" text-anchor="middle" fill="#1a1a1a" stroke="#1a1a1a" stroke-width="0.25">#</text>
<text x="96.09" y="368.06" font-size="6.2" text-anchor="middle" fill="#1a1a1a" stroke="#1a1a1a" stroke-width="0.25">#</text>
<text x="109.02" y="363.46" font-size="6.2" text-anchor="middle" fill="#1a1a1a" stroke="#1a1a1a" stroke-width="0.25">#</text>
<text x="121.95" y="369.56" font-size="6.2" text-anchor="middle" fill="#1a1a1a" stroke="#1a1a1a" stroke-width="0.25">#</text>
<text x="134.88" y="370.86" font-size="6.2" text-anchor="middle" fill="#1a1a1a" stroke="#1a1a1a" stroke-width="0.25">#</text>
<text x="97.15" y="417.70" font-size="7.4" text-anchor="middle" fill="#222" stroke="#222" stroke-width="0.08">t</text>
<text x="97.15" y="426.40" font-size="7.2" text-anchor="middle" fill="#222" stroke="#222" stroke-width="0.08" textLength="15.90" lengthAdjust="spacingAndGlyphs">[min]</text>
<text x="17.90" y="358.00" font-size="6.9" text-anchor="middle" fill="#222" stroke="#222" stroke-width="0.08" transform="rotate(-90 17.90 358.00)" textLength="56.10" lengthAdjust="spacingAndGlyphs">Rolling neutrophils</text>
<text x="27.50" y="358.40" font-size="6.9" text-anchor="middle" fill="#222" stroke="#222" stroke-width="0.08" transform="rotate(-90 27.50 358.40)" textLength="42.90" lengthAdjust="spacingAndGlyphs">[n / 100 HPFs]</text>
<line x1="48.00" y1="323.70" x2="62.00" y2="323.70" stroke="#b0231f" stroke-width="1.5"/>
<circle cx="54.80" cy="323.70" r="1.40" fill="#000"/>
<line x1="48.00" y1="330.90" x2="62.00" y2="330.90" stroke="#4a8232" stroke-width="1.5"/>
<circle cx="54.80" cy="330.90" r="1.40" fill="#000"/>
<text x="64.90" y="326.00" font-size="5.5" fill="#222" stroke="#222" stroke-width="0.08" textLength="40.00" lengthAdjust="spacingAndGlyphs">aged neutrophils</text>
<text x="64.90" y="332.90" font-size="5.5" fill="#222" stroke="#222" stroke-width="0.08" textLength="50.80" lengthAdjust="spacingAndGlyphs">non-aged neutrophils</text>
<line x1="201.50" y1="320.50" x2="201.50" y2="397.60" stroke="#000" stroke-width="1.2"/>
<line x1="200.90" y1="397.00" x2="308.80" y2="397.00" stroke="#000" stroke-width="1.2"/>
<line x1="198.70" y1="397.00" x2="201.50" y2="397.00" stroke="#000" stroke-width="1"/>
<text x="196.70" y="399.20" font-size="6.2" text-anchor="end" fill="#222" stroke="#222" stroke-width="0.08" textLength="3.35" lengthAdjust="spacingAndGlyphs">0</text>
<line x1="198.70" y1="382.10" x2="201.50" y2="382.10" stroke="#000" stroke-width="1"/>
<text x="196.70" y="384.30" font-size="6.2" text-anchor="end" fill="#222" stroke="#222" stroke-width="0.08" textLength="6.70" lengthAdjust="spacingAndGlyphs">20</text>
<line x1="198.70" y1="367.20" x2="201.50" y2="367.20" stroke="#000" stroke-width="1"/>
<text x="196.70" y="369.40" font-size="6.2" text-anchor="end" fill="#222" stroke="#222" stroke-width="0.08" textLength="6.70" lengthAdjust="spacingAndGlyphs">40</text>
<line x1="198.70" y1="352.30" x2="201.50" y2="352.30" stroke="#000" stroke-width="1"/>
<text x="196.70" y="354.50" font-size="6.2" text-anchor="end" fill="#222" stroke="#222" stroke-width="0.08" textLength="6.70" lengthAdjust="spacingAndGlyphs">60</text>
<line x1="198.70" y1="337.40" x2="201.50" y2="337.40" stroke="#000" stroke-width="1"/>
<text x="196.70" y="339.60" font-size="6.2" text-anchor="end" fill="#222" stroke="#222" stroke-width="0.08" textLength="6.70" lengthAdjust="spacingAndGlyphs">80</text>
<line x1="198.70" y1="322.50" x2="201.50" y2="322.50" stroke="#000" stroke-width="1"/>
<text x="196.70" y="324.70" font-size="6.2" text-anchor="end" fill="#222" stroke="#222" stroke-width="0.08" textLength="10.05" lengthAdjust="spacingAndGlyphs">100</text>
<line x1="215.60" y1="397.00" x2="215.60" y2="399.20" stroke="#000" stroke-width="1"/>
<text x="215.60" y="407.10" font-size="6.2" text-anchor="middle" fill="#222" stroke="#222" stroke-width="0.08" textLength="3.35" lengthAdjust="spacingAndGlyphs">0</text>
<line x1="228.45" y1="397.00" x2="228.45" y2="399.20" stroke="#000" stroke-width="1"/>
<text x="228.45" y="407.10" font-size="6.2" text-anchor="middle" fill="#222" stroke="#222" stroke-width="0.08" textLength="6.70" lengthAdjust="spacingAndGlyphs">30</text>
<line x1="241.30" y1="397.00" x2="241.30" y2="399.20" stroke="#000" stroke-width="1"/>
<text x="241.30" y="407.10" font-size="6.2" text-anchor="middle" fill="#222" stroke="#222" stroke-width="0.08" textLength="6.70" lengthAdjust="spacingAndGlyphs">60</text>
<line x1="254.15" y1="397.00" x2="254.15" y2="399.20" stroke="#000" stroke-width="1"/>
<text x="254.15" y="407.10" font-size="6.2" text-anchor="middle" fill="#222" stroke="#222" stroke-width="0.08" textLength="6.70" lengthAdjust="spacingAndGlyphs">90</text>
<line x1="267.00" y1="397.00" x2="267.00" y2="399.20" stroke="#000" stroke-width="1"/>
<text x="267.00" y="407.10" font-size="6.2" text-anchor="middle" fill="#222" stroke="#222" stroke-width="0.08" textLength="10.05" lengthAdjust="spacingAndGlyphs">120</text>
<line x1="279.85" y1="397.00" x2="279.85" y2="399.20" stroke="#000" stroke-width="1"/>
<text x="279.85" y="407.10" font-size="6.2" text-anchor="middle" fill="#222" stroke="#222" stroke-width="0.08" textLength="10.05" lengthAdjust="spacingAndGlyphs">150</text>
<line x1="292.70" y1="397.00" x2="292.70" y2="399.20" stroke="#000" stroke-width="1"/>
<text x="292.70" y="407.10" font-size="6.2" text-anchor="middle" fill="#222" stroke="#222" stroke-width="0.08" textLength="10.05" lengthAdjust="spacingAndGlyphs">180</text>
<line x1="202.75" y1="397.00" x2="202.75" y2="399.20" stroke="#000" stroke-width="1"/>
<line x1="305.55" y1="397.00" x2="305.55" y2="399.20" stroke="#000" stroke-width="1"/>
<polyline points="215.60,389.92 228.45,382.47 241.30,378.90 254.15,371.60 267.00,366.98 279.85,366.08 292.70,359.68" fill="none" stroke="#4a8232" stroke-width="1.9" stroke-linejoin="round"/>
<polyline points="215.60,379.42 228.45,361.20 241.30,357.51 254.15,357.51 267.00,344.70 279.85,348.72 292.70,343.29" fill="none" stroke="#b0231f" stroke-width="1.9" stroke-linejoin="round"/>
<line x1="215.60" y1="388.42" x2="215.60" y2="391.42" stroke="#000" stroke-width="0.9"/>
<line x1="214.20" y1="388.42" x2="217.00" y2="388.42" stroke="#000" stroke-width="0.9"/>
<line x1="214.20" y1="391.42" x2="217.00" y2="391.42" stroke="#000" stroke-width="0.9"/>
<circle cx="215.60" cy="389.92" r="1.35" fill="#000"/>
<line x1="228.45" y1="377.47" x2="228.45" y2="387.47" stroke="#000" stroke-width="0.9"/>
<line x1="227.05" y1="377.47" x2="229.85" y2="377.47" stroke="#000" stroke-width="0.9"/>
<line x1="227.05" y1="387.47" x2="229.85" y2="387.47" stroke="#000" stroke-width="0.9"/>
<circle cx="228.45" cy="382.47" r="1.35" fill="#000"/>
<line x1="241.30" y1="374.90" x2="241.30" y2="382.90" stroke="#000" stroke-width="0.9"/>
<line x1="239.90" y1="374.90" x2="242.70" y2="374.90" stroke="#000" stroke-width="0.9"/>
<line x1="239.90" y1="382.90" x2="242.70" y2="382.90" stroke="#000" stroke-width="0.9"/>
<circle cx="241.30" cy="378.90" r="1.35" fill="#000"/>
<line x1="254.15" y1="367.60" x2="254.15" y2="375.60" stroke="#000" stroke-width="0.9"/>
<line x1="252.75" y1="367.60" x2="255.55" y2="367.60" stroke="#000" stroke-width="0.9"/>
<line x1="252.75" y1="375.60" x2="255.55" y2="375.60" stroke="#000" stroke-width="0.9"/>
<circle cx="254.15" cy="371.60" r="1.35" fill="#000"/>
<line x1="267.00" y1="363.98" x2="267.00" y2="369.98" stroke="#000" stroke-width="0.9"/>
<line x1="265.60" y1="363.98" x2="268.40" y2="363.98" stroke="#000" stroke-width="0.9"/>
<line x1="265.60" y1="369.98" x2="268.40" y2="369.98" stroke="#000" stroke-width="0.9"/>
<circle cx="267.00" cy="366.98" r="1.35" fill="#000"/>
<line x1="279.85" y1="363.08" x2="279.85" y2="369.08" stroke="#000" stroke-width="0.9"/>
<line x1="278.45" y1="363.08" x2="281.25" y2="363.08" stroke="#000" stroke-width="0.9"/>
<line x1="278.45" y1="369.08" x2="281.25" y2="369.08" stroke="#000" stroke-width="0.9"/>
<circle cx="279.85" cy="366.08" r="1.35" fill="#000"/>
<line x1="292.70" y1="358.68" x2="292.70" y2="360.68" stroke="#000" stroke-width="0.9"/>
<line x1="291.30" y1="358.68" x2="294.10" y2="358.68" stroke="#000" stroke-width="0.9"/>
<line x1="291.30" y1="360.68" x2="294.10" y2="360.68" stroke="#000" stroke-width="0.9"/>
<circle cx="292.70" cy="359.68" r="1.35" fill="#000"/>
<line x1="215.60" y1="377.92" x2="215.60" y2="380.92" stroke="#000" stroke-width="0.9"/>
<line x1="214.20" y1="377.92" x2="217.00" y2="377.92" stroke="#000" stroke-width="0.9"/>
<line x1="214.20" y1="380.92" x2="217.00" y2="380.92" stroke="#000" stroke-width="0.9"/>
<circle cx="215.60" cy="379.42" r="1.35" fill="#000"/>
<line x1="228.45" y1="357.70" x2="228.45" y2="364.70" stroke="#000" stroke-width="0.9"/>
<line x1="227.05" y1="357.70" x2="229.85" y2="357.70" stroke="#000" stroke-width="0.9"/>
<line x1="227.05" y1="364.70" x2="229.85" y2="364.70" stroke="#000" stroke-width="0.9"/>
<circle cx="228.45" cy="361.20" r="1.35" fill="#000"/>
<line x1="241.30" y1="353.51" x2="241.30" y2="361.51" stroke="#000" stroke-width="0.9"/>
<line x1="239.90" y1="353.51" x2="242.70" y2="353.51" stroke="#000" stroke-width="0.9"/>
<line x1="239.90" y1="361.51" x2="242.70" y2="361.51" stroke="#000" stroke-width="0.9"/>
<circle cx="241.30" cy="357.51" r="1.35" fill="#000"/>
<line x1="254.15" y1="353.51" x2="254.15" y2="361.51" stroke="#000" stroke-width="0.9"/>
<line x1="252.75" y1="353.51" x2="255.55" y2="353.51" stroke="#000" stroke-width="0.9"/>
<line x1="252.75" y1="361.51" x2="255.55" y2="361.51" stroke="#000" stroke-width="0.9"/>
<circle cx="254.15" cy="357.51" r="1.35" fill="#000"/>
<line x1="267.00" y1="341.20" x2="267.00" y2="348.20" stroke="#000" stroke-width="0.9"/>
<line x1="265.60" y1="341.20" x2="268.40" y2="341.20" stroke="#000" stroke-width="0.9"/>
<line x1="265.60" y1="348.20" x2="268.40" y2="348.20" stroke="#000" stroke-width="0.9"/>
<circle cx="267.00" cy="344.70" r="1.35" fill="#000"/>
<line x1="279.85" y1="345.22" x2="279.85" y2="352.22" stroke="#000" stroke-width="0.9"/>
<line x1="278.45" y1="345.22" x2="281.25" y2="345.22" stroke="#000" stroke-width="0.9"/>
<line x1="278.45" y1="352.22" x2="281.25" y2="352.22" stroke="#000" stroke-width="0.9"/>
<circle cx="279.85" cy="348.72" r="1.35" fill="#000"/>
<line x1="292.70" y1="340.29" x2="292.70" y2="346.29" stroke="#000" stroke-width="0.9"/>
<line x1="291.30" y1="340.29" x2="294.10" y2="340.29" stroke="#000" stroke-width="0.9"/>
<line x1="291.30" y1="346.29" x2="294.10" y2="346.29" stroke="#000" stroke-width="0.9"/>
<circle cx="292.70" cy="343.29" r="1.35" fill="#000"/>
<text x="215.60" y="375.36" font-size="6.2" text-anchor="middle" fill="#1a1a1a" stroke="#1a1a1a" stroke-width="0.25">#</text>
<text x="228.45" y="355.26" font-size="6.2" text-anchor="middle" fill="#1a1a1a" stroke="#1a1a1a" stroke-width="0.25">#</text>
<text x="241.30" y="350.66" font-size="6.2" text-anchor="middle" fill="#1a1a1a" stroke="#1a1a1a" stroke-width="0.25">#</text>
<text x="254.15" y="351.16" font-size="6.2" text-anchor="middle" fill="#1a1a1a" stroke="#1a1a1a" stroke-width="0.25">#</text>
<text x="267.00" y="337.46" font-size="6.2" text-anchor="middle" fill="#1a1a1a" stroke="#1a1a1a" stroke-width="0.25">#</text>
<text x="279.85" y="342.46" font-size="6.2" text-anchor="middle" fill="#1a1a1a" stroke="#1a1a1a" stroke-width="0.25">#</text>
<text x="292.70" y="337.46" font-size="6.2" text-anchor="middle" fill="#1a1a1a" stroke="#1a1a1a" stroke-width="0.25">#</text>
<text x="255.15" y="417.30" font-size="7.4" text-anchor="middle" fill="#222" stroke="#222" stroke-width="0.08">t</text>
<text x="255.15" y="426.00" font-size="7.2" text-anchor="middle" fill="#222" stroke="#222" stroke-width="0.08" textLength="15.90" lengthAdjust="spacingAndGlyphs">[min]</text>
<text x="171.90" y="358.00" font-size="6.9" text-anchor="middle" fill="#222" stroke="#222" stroke-width="0.08" transform="rotate(-90 171.90 358.00)" textLength="61.00" lengthAdjust="spacingAndGlyphs">Adherent neutrophils</text>
<text x="180.50" y="358.40" font-size="6.9" text-anchor="middle" fill="#222" stroke="#222" stroke-width="0.08" transform="rotate(-90 180.50 358.40)" textLength="43.50" lengthAdjust="spacingAndGlyphs">[n / 100 HPFs]</text>
<line x1="357.40" y1="320.50" x2="357.40" y2="397.40" stroke="#000" stroke-width="1.2"/>
<line x1="356.80" y1="396.80" x2="461.50" y2="396.80" stroke="#000" stroke-width="1.2"/>
<line x1="354.60" y1="396.80" x2="357.40" y2="396.80" stroke="#000" stroke-width="1"/>
<text x="352.60" y="399.00" font-size="6.2" text-anchor="end" fill="#222" stroke="#222" stroke-width="0.08" textLength="3.35" lengthAdjust="spacingAndGlyphs">0</text>
<line x1="354.60" y1="378.30" x2="357.40" y2="378.30" stroke="#000" stroke-width="1"/>
<text x="352.60" y="380.50" font-size="6.2" text-anchor="end" fill="#222" stroke="#222" stroke-width="0.08" textLength="6.70" lengthAdjust="spacingAndGlyphs">10</text>
<line x1="354.60" y1="359.80" x2="357.40" y2="359.80" stroke="#000" stroke-width="1"/>
<text x="352.60" y="362.00" font-size="6.2" text-anchor="end" fill="#222" stroke="#222" stroke-width="0.08" textLength="6.70" lengthAdjust="spacingAndGlyphs">20</text>
<line x1="354.60" y1="341.30" x2="357.40" y2="341.30" stroke="#000" stroke-width="1"/>
<text x="352.60" y="343.50" font-size="6.2" text-anchor="end" fill="#222" stroke="#222" stroke-width="0.08" textLength="6.70" lengthAdjust="spacingAndGlyphs">30</text>
<line x1="354.60" y1="322.80" x2="357.40" y2="322.80" stroke="#000" stroke-width="1"/>
<text x="352.60" y="325.00" font-size="6.2" text-anchor="end" fill="#222" stroke="#222" stroke-width="0.08" textLength="6.70" lengthAdjust="spacingAndGlyphs">40</text>
<line x1="369.50" y1="396.80" x2="369.50" y2="399.00" stroke="#000" stroke-width="1"/>
<text x="369.50" y="406.90" font-size="6.2" text-anchor="middle" fill="#222" stroke="#222" stroke-width="0.08" textLength="3.35" lengthAdjust="spacingAndGlyphs">0</text>
<line x1="382.40" y1="396.80" x2="382.40" y2="399.00" stroke="#000" stroke-width="1"/>
<text x="382.40" y="406.90" font-size="6.2" text-anchor="middle" fill="#222" stroke="#222" stroke-width="0.08" textLength="6.70" lengthAdjust="spacingAndGlyphs">30</text>
<line x1="395.30" y1="396.80" x2="395.30" y2="399.00" stroke="#000" stroke-width="1"/>
<text x="395.30" y="406.90" font-size="6.2" text-anchor="middle" fill="#222" stroke="#222" stroke-width="0.08" textLength="6.70" lengthAdjust="spacingAndGlyphs">60</text>
<line x1="408.20" y1="396.80" x2="408.20" y2="399.00" stroke="#000" stroke-width="1"/>
<text x="408.20" y="406.90" font-size="6.2" text-anchor="middle" fill="#222" stroke="#222" stroke-width="0.08" textLength="6.70" lengthAdjust="spacingAndGlyphs">90</text>
<line x1="421.10" y1="396.80" x2="421.10" y2="399.00" stroke="#000" stroke-width="1"/>
<text x="421.10" y="406.90" font-size="6.2" text-anchor="middle" fill="#222" stroke="#222" stroke-width="0.08" textLength="10.05" lengthAdjust="spacingAndGlyphs">120</text>
<line x1="434.00" y1="396.80" x2="434.00" y2="399.00" stroke="#000" stroke-width="1"/>
<text x="434.00" y="406.90" font-size="6.2" text-anchor="middle" fill="#222" stroke="#222" stroke-width="0.08" textLength="10.05" lengthAdjust="spacingAndGlyphs">150</text>
<line x1="446.90" y1="396.80" x2="446.90" y2="399.00" stroke="#000" stroke-width="1"/>
<text x="446.90" y="406.90" font-size="6.2" text-anchor="middle" fill="#222" stroke="#222" stroke-width="0.08" textLength="10.05" lengthAdjust="spacingAndGlyphs">180</text>
<line x1="356.60" y1="396.80" x2="356.60" y2="399.00" stroke="#000" stroke-width="1"/>
<line x1="459.80" y1="396.80" x2="459.80" y2="399.00" stroke="#000" stroke-width="1"/>
<polyline points="369.50,396.80 382.40,396.43 395.30,395.50 408.20,391.99 421.10,382.93 434.00,377.75 446.90,371.64" fill="none" stroke="#4a8232" stroke-width="1.9" stroke-linejoin="round"/>
<polyline points="369.50,396.80 382.40,393.19 395.30,389.31 408.20,381.44 421.10,366.46 434.00,356.66 446.90,347.59" fill="none" stroke="#b0231f" stroke-width="1.9" stroke-linejoin="round"/>
<circle cx="369.50" cy="396.80" r="1.35" fill="#000"/>
<circle cx="382.40" cy="396.43" r="1.35" fill="#000"/>
<line x1="395.30" y1="395.00" x2="395.30" y2="396.00" stroke="#000" stroke-width="0.9"/>
<line x1="393.90" y1="395.00" x2="396.70" y2="395.00" stroke="#000" stroke-width="0.9"/>
<line x1="393.90" y1="396.00" x2="396.70" y2="396.00" stroke="#000" stroke-width="0.9"/>
<circle cx="395.30" cy="395.50" r="1.35" fill="#000"/>
<line x1="408.20" y1="391.19" x2="408.20" y2="392.79" stroke="#000" stroke-width="0.9"/>
<line x1="406.80" y1="391.19" x2="409.60" y2="391.19" stroke="#000" stroke-width="0.9"/>
<line x1="406.80" y1="392.79" x2="409.60" y2="392.79" stroke="#000" stroke-width="0.9"/>
<circle cx="408.20" cy="391.99" r="1.35" fill="#000"/>
<line x1="421.10" y1="379.43" x2="421.10" y2="386.43" stroke="#000" stroke-width="0.9"/>
<line x1="419.70" y1="379.43" x2="422.50" y2="379.43" stroke="#000" stroke-width="0.9"/>
<line x1="419.70" y1="386.43" x2="422.50" y2="386.43" stroke="#000" stroke-width="0.9"/>
<circle cx="421.10" cy="382.93" r="1.35" fill="#000"/>
<line x1="434.00" y1="374.25" x2="434.00" y2="381.25" stroke="#000" stroke-width="0.9"/>
<line x1="432.60" y1="374.25" x2="435.40" y2="374.25" stroke="#000" stroke-width="0.9"/>
<line x1="432.60" y1="381.25" x2="435.40" y2="381.25" stroke="#000" stroke-width="0.9"/>
<circle cx="434.00" cy="377.75" r="1.35" fill="#000"/>
<line x1="446.90" y1="368.14" x2="446.90" y2="375.14" stroke="#000" stroke-width="0.9"/>
<line x1="445.50" y1="368.14" x2="448.30" y2="368.14" stroke="#000" stroke-width="0.9"/>
<line x1="445.50" y1="375.14" x2="448.30" y2="375.14" stroke="#000" stroke-width="0.9"/>
<circle cx="446.90" cy="371.64" r="1.35" fill="#000"/>
<circle cx="369.50" cy="396.80" r="1.35" fill="#000"/>
<line x1="382.40" y1="392.19" x2="382.40" y2="394.19" stroke="#000" stroke-width="0.9"/>
<line x1="381.00" y1="392.19" x2="383.80" y2="392.19" stroke="#000" stroke-width="0.9"/>
<line x1="381.00" y1="394.19" x2="383.80" y2="394.19" stroke="#000" stroke-width="0.9"/>
<circle cx="382.40" cy="393.19" r="1.35" fill="#000"/>
<line x1="395.30" y1="388.11" x2="395.30" y2="390.51" stroke="#000" stroke-width="0.9"/>
<line x1="393.90" y1="388.11" x2="396.70" y2="388.11" stroke="#000" stroke-width="0.9"/>
<line x1="393.90" y1="390.51" x2="396.70" y2="390.51" stroke="#000" stroke-width="0.9"/>
<circle cx="395.30" cy="389.31" r="1.35" fill="#000"/>
<line x1="408.20" y1="379.94" x2="408.20" y2="382.94" stroke="#000" stroke-width="0.9"/>
<line x1="406.80" y1="379.94" x2="409.60" y2="379.94" stroke="#000" stroke-width="0.9"/>
<line x1="406.80" y1="382.94" x2="409.60" y2="382.94" stroke="#000" stroke-width="0.9"/>
<circle cx="408.20" cy="381.44" r="1.35" fill="#000"/>
<line x1="421.10" y1="360.46" x2="421.10" y2="372.46" stroke="#000" stroke-width="0.9"/>
<line x1="419.70" y1="360.46" x2="422.50" y2="360.46" stroke="#000" stroke-width="0.9"/>
<line x1="419.70" y1="372.46" x2="422.50" y2="372.46" stroke="#000" stroke-width="0.9"/>
<circle cx="421.10" cy="366.46" r="1.35" fill="#000"/>
<line x1="434.00" y1="350.66" x2="434.00" y2="362.66" stroke="#000" stroke-width="0.9"/>
<line x1="432.60" y1="350.66" x2="435.40" y2="350.66" stroke="#000" stroke-width="0.9"/>
<line x1="432.60" y1="362.66" x2="435.40" y2="362.66" stroke="#000" stroke-width="0.9"/>
<circle cx="434.00" cy="356.66" r="1.35" fill="#000"/>
<line x1="446.90" y1="341.09" x2="446.90" y2="354.09" stroke="#000" stroke-width="0.9"/>
<line x1="445.50" y1="341.09" x2="448.30" y2="341.09" stroke="#000" stroke-width="0.9"/>
<line x1="445.50" y1="354.09" x2="448.30" y2="354.09" stroke="#000" stroke-width="0.9"/>
<circle cx="446.90" cy="347.59" r="1.35" fill="#000"/>
<text x="382.40" y="389.26" font-size="6.2" text-anchor="middle" fill="#1a1a1a" stroke="#1a1a1a" stroke-width="0.25">#</text>
<text x="395.30" y="385.86" font-size="6.2" text-anchor="middle" fill="#1a1a1a" stroke="#1a1a1a" stroke-width="0.25">#</text>
<text x="408.20" y="378.06" font-size="6.2" text-anchor="middle" fill="#1a1a1a" stroke="#1a1a1a" stroke-width="0.25">#</text>
<text x="421.10" y="358.16" font-size="6.2" text-anchor="middle" fill="#1a1a1a" stroke="#1a1a1a" stroke-width="0.25">#</text>
<text x="434.00" y="349.06" font-size="6.2" text-anchor="middle" fill="#1a1a1a" stroke="#1a1a1a" stroke-width="0.25">#</text>
<text x="446.90" y="338.16" font-size="6.2" text-anchor="middle" fill="#1a1a1a" stroke="#1a1a1a" stroke-width="0.25">#</text>
<text x="409.45" y="417.10" font-size="7.4" text-anchor="middle" fill="#222" stroke="#222" stroke-width="0.08">t</text>
<text x="409.45" y="425.80" font-size="7.2" text-anchor="middle" fill="#222" stroke="#222" stroke-width="0.08" textLength="15.90" lengthAdjust="spacingAndGlyphs">[min]</text>
<text x="329.60" y="358.00" font-size="6.9" text-anchor="middle" fill="#222" stroke="#222" stroke-width="0.08" transform="rotate(-90 329.60 358.00)" textLength="77.70" lengthAdjust="spacingAndGlyphs">Transmigrated neutrophils</text>
<text x="340.40" y="358.40" font-size="6.9" text-anchor="middle" fill="#222" stroke="#222" stroke-width="0.08" transform="rotate(-90 340.40 358.40)" textLength="42.30" lengthAdjust="spacingAndGlyphs">[n / 100 HPFs]</text>
<rect x="0" y="0" width="520" height="1.1" fill="#000"/>
<rect x="0" y="0" width="1.5" height="434" fill="#000"/>
<rect x="518.6" y="0" width="1.4" height="434" fill="#000"/>
<rect x="0" y="432.2" width="520" height="1.8" fill="#000"/>
</svg></body></html>
